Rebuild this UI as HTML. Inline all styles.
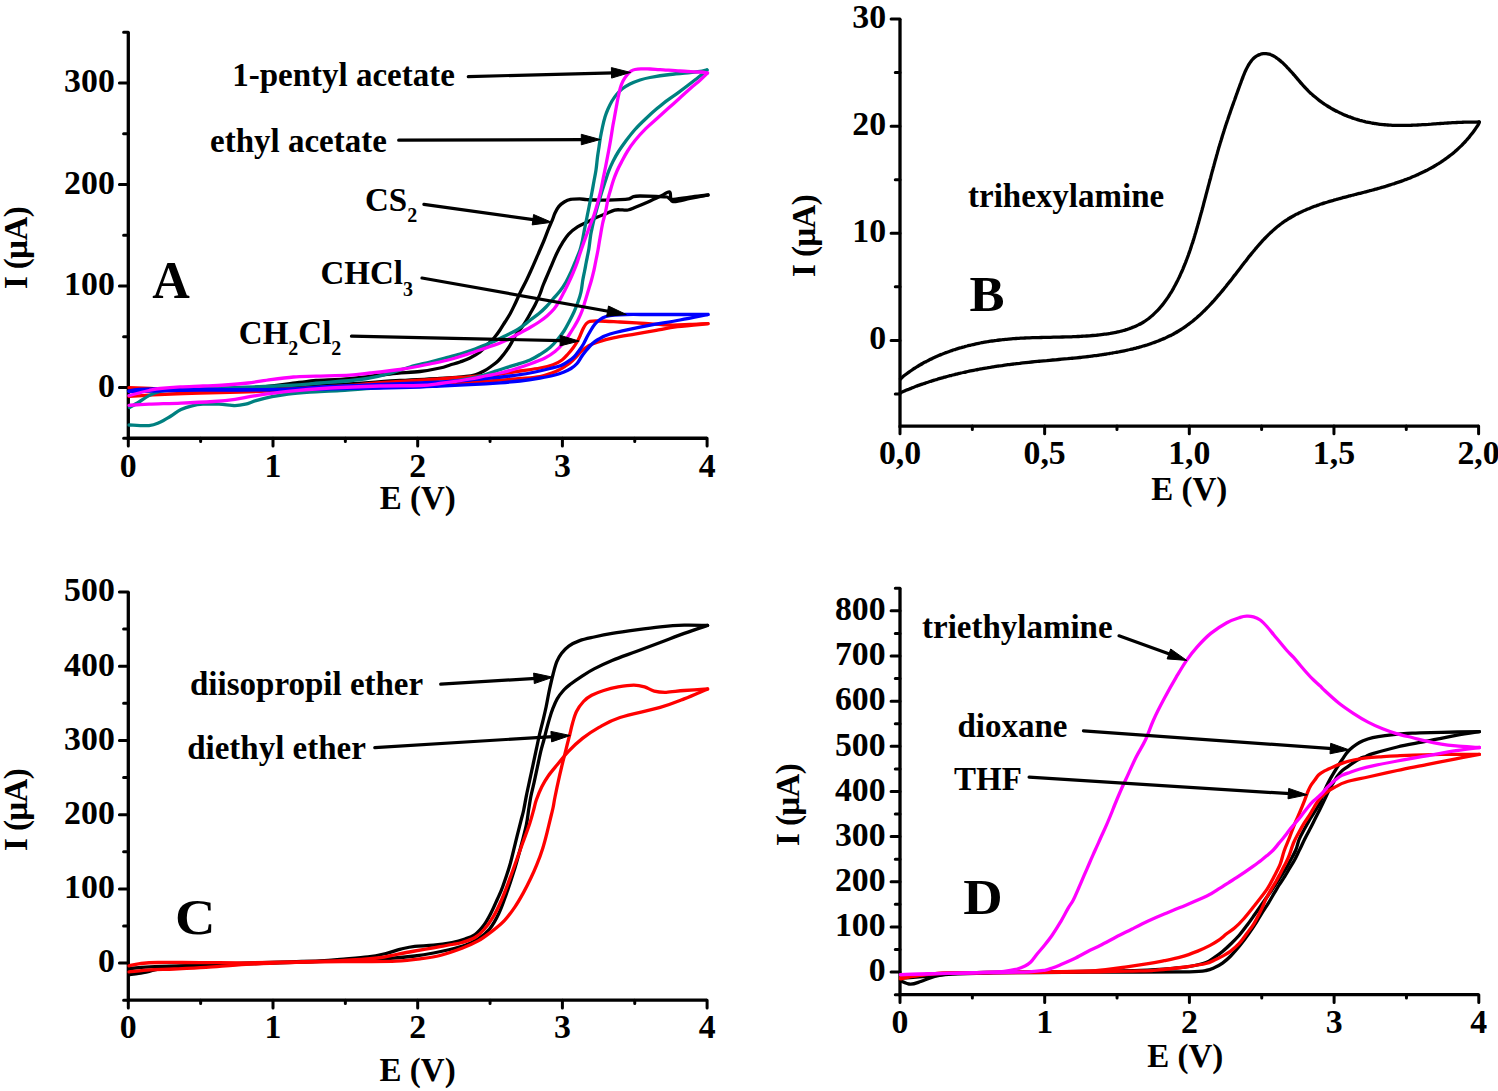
<!DOCTYPE html>
<html><head><meta charset="utf-8"><style>html,body{margin:0;padding:0;background:#fff;width:1498px;height:1091px;overflow:hidden}</style></head>
<body>
<svg width="1498" height="1091" viewBox="0 0 1498 1091" style="position:absolute;left:0;top:0;font-family:'Liberation Serif',serif;font-weight:bold">
<rect width="100%" height="100%" fill="#fff"/>
<path d="M128.30,32.14 L128.30,438.26 L707.10,438.26" stroke="#000" stroke-width="3.3" fill="none" stroke-linecap="butt" stroke-linejoin="miter"/>
<path d="M128.30,438.26 L128.30,445.96 M273.00,438.26 L273.00,445.96 M417.70,438.26 L417.70,445.96 M562.40,438.26 L562.40,445.96 M707.10,438.26 L707.10,445.96 M200.65,438.26 L200.65,441.56 M345.35,438.26 L345.35,441.56 M490.05,438.26 L490.05,441.56 M634.75,438.26 L634.75,441.56 M128.30,387.50 L119.40,387.50 M128.30,285.97 L119.40,285.97 M128.30,184.44 L119.40,184.44 M128.30,82.91 L119.40,82.91 M128.30,438.26 L123.60,438.26 M128.30,336.74 L123.60,336.74 M128.30,235.20 L123.60,235.20 M128.30,133.67 L123.60,133.67 M128.30,32.14 L123.60,32.14" stroke="#000" stroke-width="3.0" fill="none" stroke-linecap="round"/>
<text x="128.30" y="477.30" text-anchor="middle" font-size="33.8">0</text>
<text x="273.00" y="477.30" text-anchor="middle" font-size="33.8">1</text>
<text x="417.70" y="477.30" text-anchor="middle" font-size="33.8">2</text>
<text x="562.40" y="477.30" text-anchor="middle" font-size="33.8">3</text>
<text x="707.10" y="477.30" text-anchor="middle" font-size="33.8">4</text>
<text x="114.80" y="396.80" text-anchor="end" font-size="33.8">0</text>
<text x="114.80" y="295.27" text-anchor="end" font-size="33.8">100</text>
<text x="114.80" y="193.74" text-anchor="end" font-size="33.8">200</text>
<text x="114.80" y="92.21" text-anchor="end" font-size="33.8">300</text>
<path d="M900.00,19.01 L900.00,426.10 L1478.60,426.10" stroke="#000" stroke-width="3.3" fill="none" stroke-linecap="butt" stroke-linejoin="miter"/>
<path d="M900.00,426.10 L900.00,433.80 M1044.65,426.10 L1044.65,433.80 M1189.30,426.10 L1189.30,433.80 M1333.95,426.10 L1333.95,433.80 M1478.60,426.10 L1478.60,433.80 M972.33,426.10 L972.33,429.40 M1116.97,426.10 L1116.97,429.40 M1261.62,426.10 L1261.62,429.40 M1406.28,426.10 L1406.28,429.40 M900.00,340.40 L891.10,340.40 M900.00,233.27 L891.10,233.27 M900.00,126.14 L891.10,126.14 M900.00,19.01 L891.10,19.01 M900.00,393.96 L895.30,393.96 M900.00,286.83 L895.30,286.83 M900.00,179.70 L895.30,179.70 M900.00,72.57 L895.30,72.57" stroke="#000" stroke-width="3.0" fill="none" stroke-linecap="round"/>
<text x="900.00" y="464.30" text-anchor="middle" font-size="33.8">0,0</text>
<text x="1044.65" y="464.30" text-anchor="middle" font-size="33.8">0,5</text>
<text x="1189.30" y="464.30" text-anchor="middle" font-size="33.8">1,0</text>
<text x="1333.95" y="464.30" text-anchor="middle" font-size="33.8">1,5</text>
<text x="1478.60" y="464.30" text-anchor="middle" font-size="33.8">2,0</text>
<text x="886.10" y="349.40" text-anchor="end" font-size="33.8">0</text>
<text x="886.10" y="242.27" text-anchor="end" font-size="33.8">10</text>
<text x="886.10" y="135.14" text-anchor="end" font-size="33.8">20</text>
<text x="886.10" y="28.01" text-anchor="end" font-size="33.8">30</text>
<path d="M128.30,592.00 L128.30,1000.21 L707.10,1000.21" stroke="#000" stroke-width="3.3" fill="none" stroke-linecap="butt" stroke-linejoin="miter"/>
<path d="M128.30,1000.21 L128.30,1007.91 M273.00,1000.21 L273.00,1007.91 M417.70,1000.21 L417.70,1007.91 M562.40,1000.21 L562.40,1007.91 M707.10,1000.21 L707.10,1007.91 M200.65,1000.21 L200.65,1003.51 M345.35,1000.21 L345.35,1003.51 M490.05,1000.21 L490.05,1003.51 M634.75,1000.21 L634.75,1003.51 M128.30,963.10 L119.40,963.10 M128.30,888.88 L119.40,888.88 M128.30,814.66 L119.40,814.66 M128.30,740.44 L119.40,740.44 M128.30,666.22 L119.40,666.22 M128.30,592.00 L119.40,592.00 M128.30,1000.21 L123.60,1000.21 M128.30,925.99 L123.60,925.99 M128.30,851.77 L123.60,851.77 M128.30,777.55 L123.60,777.55 M128.30,703.33 L123.60,703.33 M128.30,629.11 L123.60,629.11" stroke="#000" stroke-width="3.0" fill="none" stroke-linecap="round"/>
<text x="128.30" y="1037.80" text-anchor="middle" font-size="33.8">0</text>
<text x="273.00" y="1037.80" text-anchor="middle" font-size="33.8">1</text>
<text x="417.70" y="1037.80" text-anchor="middle" font-size="33.8">2</text>
<text x="562.40" y="1037.80" text-anchor="middle" font-size="33.8">3</text>
<text x="707.10" y="1037.80" text-anchor="middle" font-size="33.8">4</text>
<text x="114.80" y="972.40" text-anchor="end" font-size="33.8">0</text>
<text x="114.80" y="898.18" text-anchor="end" font-size="33.8">100</text>
<text x="114.80" y="823.96" text-anchor="end" font-size="33.8">200</text>
<text x="114.80" y="749.74" text-anchor="end" font-size="33.8">300</text>
<text x="114.80" y="675.52" text-anchor="end" font-size="33.8">400</text>
<text x="114.80" y="601.30" text-anchor="end" font-size="33.8">500</text>
<path d="M900.00,588.24 L900.00,994.68 L1478.80,994.68" stroke="#000" stroke-width="3.3" fill="none" stroke-linecap="butt" stroke-linejoin="miter"/>
<path d="M900.00,994.68 L900.00,1002.38 M1044.70,994.68 L1044.70,1002.38 M1189.40,994.68 L1189.40,1002.38 M1334.10,994.68 L1334.10,1002.38 M1478.80,994.68 L1478.80,1002.38 M972.35,994.68 L972.35,997.98 M1117.05,994.68 L1117.05,997.98 M1261.75,994.68 L1261.75,997.98 M1406.45,994.68 L1406.45,997.98 M900.00,972.10 L891.10,972.10 M900.00,926.94 L891.10,926.94 M900.00,881.78 L891.10,881.78 M900.00,836.62 L891.10,836.62 M900.00,791.46 L891.10,791.46 M900.00,746.30 L891.10,746.30 M900.00,701.14 L891.10,701.14 M900.00,655.98 L891.10,655.98 M900.00,610.82 L891.10,610.82 M900.00,994.68 L895.30,994.68 M900.00,949.52 L895.30,949.52 M900.00,904.36 L895.30,904.36 M900.00,859.20 L895.30,859.20 M900.00,814.04 L895.30,814.04 M900.00,768.88 L895.30,768.88 M900.00,723.72 L895.30,723.72 M900.00,678.56 L895.30,678.56 M900.00,633.40 L895.30,633.40 M900.00,588.24 L895.30,588.24" stroke="#000" stroke-width="3.0" fill="none" stroke-linecap="round"/>
<text x="900.00" y="1033.30" text-anchor="middle" font-size="33.8">0</text>
<text x="1044.70" y="1033.30" text-anchor="middle" font-size="33.8">1</text>
<text x="1189.40" y="1033.30" text-anchor="middle" font-size="33.8">2</text>
<text x="1334.10" y="1033.30" text-anchor="middle" font-size="33.8">3</text>
<text x="1478.80" y="1033.30" text-anchor="middle" font-size="33.8">4</text>
<text x="885.60" y="981.40" text-anchor="end" font-size="33.8">0</text>
<text x="885.60" y="936.24" text-anchor="end" font-size="33.8">100</text>
<text x="885.60" y="891.08" text-anchor="end" font-size="33.8">200</text>
<text x="885.60" y="845.92" text-anchor="end" font-size="33.8">300</text>
<text x="885.60" y="800.76" text-anchor="end" font-size="33.8">400</text>
<text x="885.60" y="755.60" text-anchor="end" font-size="33.8">500</text>
<text x="885.60" y="710.44" text-anchor="end" font-size="33.8">600</text>
<text x="885.60" y="665.28" text-anchor="end" font-size="33.8">700</text>
<text x="885.60" y="620.12" text-anchor="end" font-size="33.8">800</text>
<text x="417.7" y="508.9" text-anchor="middle" font-size="33">E (V)</text>
<text x="1189.3" y="499.7" text-anchor="middle" font-size="33">E (V)</text>
<text x="417.6" y="1080.7" text-anchor="middle" font-size="33">E (V)</text>
<text x="1185.3" y="1066.7" text-anchor="middle" font-size="33">E (V)</text>
<text transform="translate(27.0,248.0) rotate(-90)" x="0" y="0" text-anchor="middle" font-size="33" letter-spacing="-0.65">I (µA)</text>
<text transform="translate(815.0,235.9) rotate(-90)" x="0" y="0" text-anchor="middle" font-size="33" letter-spacing="-0.65">I (µA)</text>
<text transform="translate(27.0,809.9) rotate(-90)" x="0" y="0" text-anchor="middle" font-size="33" letter-spacing="-0.65">I (µA)</text>
<text transform="translate(799.1,804.9) rotate(-90)" x="0" y="0" text-anchor="middle" font-size="33" letter-spacing="-0.65">I (µA)</text>
<text x="152.2" y="297.7" font-size="52">A</text>
<text transform="translate(969.6,311) scale(1.03,1)" font-size="51">B</text>
<text transform="translate(175.0,933.8) scale(1.10,1)" font-size="51">C</text>
<text transform="translate(963.3,913.9) scale(1.07,1)" font-size="51">D</text>
<text x="232.2" y="85.9" font-size="33">1-pentyl acetate</text>
<text x="210" y="151.8" font-size="33">ethyl acetate</text>
<text x="365" y="210.5" font-size="33">CS<tspan font-size="20" dy="11.3">2</tspan></text>
<text x="320.5" y="283.8" font-size="33">CHCl<tspan font-size="20" dy="11.7">3</tspan></text>
<text x="238.8" y="343.6" font-size="33">CH<tspan font-size="20" dy="11.8">2</tspan><tspan dy="-11.8">Cl</tspan><tspan font-size="20" dy="11.8">2</tspan></text>
<text x="968" y="207.2" font-size="33">trihexylamine</text>
<text x="190" y="695.4" font-size="33">diisopropil ether</text>
<text x="187.2" y="758.5" font-size="33">diethyl ether</text>
<text x="922" y="637.7" font-size="33">triethylamine</text>
<text x="957.5" y="737" font-size="33">dioxane</text>
<text x="954" y="790.3" font-size="33">THF</text>
<path d="M128.5,390.5 C135.4,390.4 154.8,390.4 170.0,390.2 C185.2,389.9 205.0,389.5 220.0,389.0 C235.0,388.5 246.8,388.1 260.0,387.0 C273.2,385.9 289.7,383.6 299.0,382.5 C308.3,381.4 307.5,381.1 316.0,380.5 C324.5,379.9 337.7,379.7 350.0,378.6 C362.3,377.5 378.3,375.2 390.0,374.0 C401.7,372.8 411.7,372.5 420.0,371.5 C428.3,370.5 435.0,369.1 440.0,368.0 C445.0,366.9 446.7,366.0 450.0,365.0 C453.3,364.0 456.7,363.2 460.0,362.0 C463.3,360.8 466.7,359.7 470.0,358.0 C473.3,356.3 477.0,354.3 480.0,352.0 C483.0,349.7 485.7,346.3 488.0,344.0 C490.3,341.7 492.0,340.3 494.0,338.0 C496.0,335.7 498.2,332.7 500.0,330.0 C501.8,327.3 503.3,324.7 505.0,322.0 C506.7,319.3 508.3,317.0 510.0,314.0 C511.7,311.0 513.3,307.5 515.0,304.0 C516.7,300.5 518.1,297.0 520.0,293.0 C521.9,289.0 524.6,284.2 526.6,280.0 C528.6,275.8 530.1,272.4 532.1,268.0 C534.1,263.6 536.5,257.9 538.5,253.3 C540.5,248.7 542.3,244.6 544.0,240.5 C545.7,236.4 547.2,232.0 548.6,228.6 C550.0,225.2 551.1,222.9 552.2,220.3 C553.3,217.7 553.9,215.3 555.0,213.0 C556.1,210.7 557.2,208.4 558.7,206.6 C560.2,204.8 562.2,203.2 564.2,202.0 C566.2,200.8 568.0,199.9 570.6,199.4 C573.2,198.9 577.0,198.9 579.7,198.9 C582.5,198.9 583.6,199.5 587.1,199.7 C590.6,199.9 595.3,200.2 600.8,200.2 C606.3,200.2 615.3,199.9 620.0,199.7 C624.7,199.5 626.8,199.3 629.0,198.8 C631.2,198.3 631.7,197.1 633.5,196.6 C635.3,196.1 636.2,196.0 640.0,196.0 C643.8,196.0 651.5,196.2 656.0,196.4 C660.5,196.6 664.3,196.5 667.0,197.0 C669.7,197.5 668.2,199.5 672.0,199.5 C675.8,199.5 684.0,197.9 690.0,197.2 C696.0,196.4 705.0,195.4 708.0,195.0" stroke="#000000" stroke-width="3.3" fill="none" stroke-linejoin="round" stroke-linecap="round"/>
<path d="M708.0,195.0 C705.0,195.6 695.9,197.4 690.0,198.5 C684.1,199.6 675.9,202.6 672.5,201.5 C669.1,200.4 671.5,193.0 669.7,192.0 C668.0,191.0 665.6,193.8 662.0,195.5 C658.4,197.2 652.3,200.1 648.0,202.0 C643.7,203.9 639.3,205.7 636.0,207.0 C632.7,208.3 630.7,209.5 628.0,210.0 C625.3,210.5 622.2,209.8 620.0,209.8 C617.8,209.8 617.0,209.5 614.6,210.2 C612.2,210.9 608.5,212.7 605.4,213.9 C602.3,215.1 599.2,216.2 596.2,217.6 C593.2,219.0 590.2,220.7 587.1,222.2 C584.0,223.7 581.0,224.7 577.9,226.7 C574.8,228.7 571.3,231.3 568.7,234.1 C566.1,236.8 564.3,240.0 562.3,243.2 C560.3,246.4 558.8,249.2 556.8,253.3 C554.8,257.4 552.3,263.6 550.4,268.0 C548.5,272.4 546.5,277.1 545.3,280.0 C544.1,282.9 543.9,283.2 543.0,285.5 C542.1,287.8 541.3,290.8 540.0,294.0 C538.7,297.2 536.7,301.7 535.0,305.0 C533.3,308.3 531.5,311.3 530.0,314.0 C528.5,316.7 527.3,318.8 526.0,321.0 C524.7,323.2 523.5,325.0 522.0,327.0 C520.5,329.0 518.5,330.8 517.0,333.0 C515.5,335.2 514.3,337.7 513.0,340.0 C511.7,342.3 510.5,344.7 509.0,347.0 C507.5,349.3 505.8,351.7 504.0,354.0 C502.2,356.3 500.2,358.9 498.0,361.0 C495.8,363.1 493.3,364.8 491.0,366.5 C488.7,368.2 486.5,369.7 484.0,371.0 C481.5,372.3 479.0,373.6 476.0,374.5 C473.0,375.4 472.0,375.8 466.0,376.5 C460.0,377.2 451.0,377.8 440.0,378.5 C429.0,379.2 418.3,379.4 400.0,380.5 C381.7,381.6 355.0,383.7 330.0,385.0 C305.0,386.3 275.0,387.7 250.0,388.5 C225.0,389.3 200.2,389.6 180.0,390.0 C159.8,390.4 137.1,390.8 128.5,391.0" stroke="#000000" stroke-width="3.3" fill="none" stroke-linejoin="round" stroke-linecap="round"/>
<path d="M129.0,387.6 C132.5,387.7 142.3,388.0 150.0,388.3 C157.7,388.6 166.7,389.1 175.0,389.3 C183.3,389.6 189.2,389.7 200.0,389.8 C210.8,389.9 225.3,389.9 240.0,389.8 C254.7,389.7 273.0,389.5 288.0,389.0 C303.0,388.5 318.0,387.3 330.0,386.6 C342.0,385.9 351.7,385.3 360.0,384.6 C368.3,383.9 370.0,383.3 380.0,382.6 C390.0,381.9 410.0,380.8 420.0,380.2 C430.0,379.6 433.3,379.2 440.0,378.8 C446.7,378.4 453.3,378.0 460.0,377.5 C466.7,377.0 473.3,376.6 480.0,376.0 C486.7,375.4 493.3,374.8 500.0,374.0 C506.7,373.2 513.3,372.0 520.0,371.0 C526.7,370.0 534.5,369.0 540.0,368.0 C545.5,367.0 549.3,366.1 553.0,364.8 C556.7,363.5 559.5,361.8 562.0,360.0 C564.5,358.2 566.2,356.0 568.0,354.0 C569.8,352.0 571.5,350.0 573.0,348.0 C574.5,346.0 575.8,344.0 577.0,342.0 C578.2,340.0 579.0,338.2 580.0,336.0 C581.0,333.8 582.0,331.0 583.0,329.0 C584.0,327.0 584.8,325.3 586.0,324.0 C587.2,322.7 587.7,321.8 590.0,321.3 C592.3,320.8 595.0,320.9 600.0,321.0 C605.0,321.1 612.5,321.6 620.0,322.0 C627.5,322.4 636.7,323.0 645.0,323.5 C653.3,324.0 662.5,324.8 670.0,325.0 C677.5,325.2 683.7,324.7 690.0,324.5 C696.3,324.3 705.0,323.8 708.0,323.7" stroke="#FF0000" stroke-width="3.3" fill="none" stroke-linejoin="round" stroke-linecap="round"/>
<path d="M708.0,323.7 C702.9,324.2 686.1,325.6 677.5,326.7 C668.9,327.8 663.3,329.1 656.2,330.4 C649.1,331.6 641.9,332.9 634.8,334.2 C627.7,335.4 619.6,336.6 613.4,337.9 C607.2,339.2 601.5,340.9 597.4,342.2 C593.3,343.5 591.5,344.1 588.8,345.6 C586.1,347.1 583.5,349.4 581.4,351.3 C579.3,353.2 577.8,355.2 576.0,357.0 C574.2,358.8 572.5,360.8 570.7,362.3 C568.9,363.9 566.8,365.1 565.0,366.3 C563.2,367.5 562.0,368.3 560.0,369.4 C558.0,370.4 556.3,371.4 553.0,372.6 C549.7,373.8 545.5,375.5 540.0,376.5 C534.5,377.5 526.7,377.9 520.0,378.5 C513.3,379.1 508.3,379.6 500.0,380.2 C491.7,380.8 480.0,381.6 470.0,382.2 C460.0,382.8 448.3,383.5 440.0,384.0 C431.7,384.5 430.0,384.6 420.0,385.0 C410.0,385.4 395.0,385.9 380.0,386.5 C365.0,387.1 345.3,387.7 330.0,388.3 C314.7,388.9 303.0,389.7 288.0,390.3 C273.0,390.9 254.7,391.6 240.0,392.0 C225.3,392.4 211.5,392.7 200.0,393.0 C188.5,393.3 179.5,393.6 171.0,394.0 C162.5,394.4 156.0,394.8 149.0,395.2 C142.0,395.6 132.3,396.2 129.0,396.4" stroke="#FF0000" stroke-width="3.3" fill="none" stroke-linejoin="round" stroke-linecap="round"/>
<path d="M129.0,425.0 C132.3,425.1 143.8,426.1 149.0,425.6 C154.2,425.2 156.3,423.9 160.0,422.3 C163.7,420.7 167.5,418.1 171.0,416.0 C174.5,413.9 177.5,411.2 181.0,409.5 C184.5,407.8 188.3,406.7 192.0,405.8 C195.7,404.9 198.5,404.5 203.0,404.2 C207.5,403.9 213.7,404.0 219.0,404.2 C224.3,404.4 230.6,405.6 235.0,405.6 C239.4,405.6 242.0,405.0 245.5,404.2 C249.0,403.4 251.6,401.9 256.0,400.6 C260.4,399.4 266.7,397.8 272.0,396.7 C277.3,395.6 281.7,394.8 288.0,394.0 C294.3,393.2 301.3,392.6 310.0,392.0 C318.7,391.4 328.3,391.2 340.0,390.5 C351.7,389.8 366.7,388.5 380.0,387.5 C393.3,386.5 408.3,385.5 420.0,384.5 C431.7,383.5 441.7,382.6 450.0,381.6 C458.3,380.6 464.3,379.5 470.0,378.4 C475.7,377.3 479.9,376.2 484.0,375.0 C488.1,373.8 491.3,372.6 494.8,371.4 C498.3,370.2 501.4,369.1 505.0,368.0 C508.6,366.9 512.0,365.9 516.2,364.6 C520.4,363.3 526.0,361.7 530.0,360.0 C534.0,358.3 536.7,356.6 540.0,354.5 C543.3,352.4 547.0,350.1 550.0,347.5 C553.0,344.9 555.7,341.8 558.0,339.0 C560.3,336.2 562.2,333.8 564.0,331.0 C565.8,328.2 567.3,325.2 569.0,322.0 C570.7,318.8 572.5,315.3 574.0,312.0 C575.5,308.7 576.8,305.3 578.0,302.0 C579.2,298.7 580.2,295.7 581.0,292.0 C581.8,288.3 582.2,283.5 582.8,280.0 C583.4,276.5 584.0,273.9 584.6,271.0 C585.2,268.1 585.5,266.2 586.2,262.5 C586.9,258.8 588.1,253.3 588.9,248.7 C589.6,244.1 590.1,238.8 590.7,235.0 C591.3,231.2 592.0,228.8 592.6,225.8 C593.2,222.8 593.8,220.1 594.6,217.0 C595.4,213.9 596.1,211.5 597.2,207.5 C598.4,203.5 600.1,197.4 601.5,193.0 C602.9,188.6 604.1,184.8 605.3,181.2 C606.5,177.6 607.3,174.6 608.6,171.3 C609.9,168.0 611.4,164.7 613.0,161.4 C614.6,158.1 616.3,155.0 618.5,151.5 C620.7,148.0 623.5,144.2 626.2,140.5 C629.0,136.8 631.7,133.2 635.0,129.5 C638.3,125.8 642.3,122.0 646.0,118.5 C649.7,115.0 653.3,111.7 657.0,108.6 C660.7,105.5 664.3,102.5 668.0,99.8 C671.7,97.0 675.3,94.8 679.0,92.1 C682.7,89.4 686.5,86.5 690.0,83.8 C693.5,81.1 697.2,78.3 700.0,76.0 C702.8,73.7 705.8,71.0 707.0,70.0" stroke="#008080" stroke-width="3.3" fill="none" stroke-linejoin="round" stroke-linecap="round"/>
<path d="M707.0,70.0 C705.8,70.2 702.8,71.1 700.0,71.5 C697.2,71.9 695.0,72.0 690.0,72.5 C685.0,73.0 676.7,73.7 670.0,74.5 C663.3,75.3 655.0,76.6 650.0,77.5 C645.0,78.4 643.3,78.9 640.0,80.0 C636.7,81.1 633.0,82.5 630.0,84.0 C627.0,85.5 624.2,87.3 622.0,89.0 C619.8,90.7 618.7,92.0 617.0,94.0 C615.3,96.0 613.5,98.5 612.0,101.0 C610.5,103.5 609.2,106.3 608.0,109.0 C606.8,111.7 605.9,114.0 605.0,117.0 C604.1,120.0 603.2,123.7 602.5,127.0 C601.8,130.3 601.1,133.7 600.5,137.0 C599.9,140.3 599.5,143.7 599.0,147.0 C598.5,150.3 598.0,153.2 597.5,157.0 C597.0,160.8 596.6,166.0 596.0,170.0 C595.4,174.0 594.7,177.3 594.0,181.0 C593.3,184.7 592.7,188.5 592.0,192.0 C591.3,195.5 590.7,198.7 590.0,202.0 C589.3,205.3 588.7,208.7 588.0,212.0 C587.3,215.3 586.7,218.7 586.0,222.0 C585.3,225.3 584.6,229.0 584.0,232.0 C583.4,235.0 583.2,237.0 582.5,240.0 C581.8,243.0 581.1,246.7 580.0,250.0 C578.9,253.3 577.5,256.3 576.0,260.0 C574.5,263.7 572.7,268.3 571.0,272.0 C569.3,275.7 567.8,278.8 566.0,282.0 C564.2,285.2 562.2,288.2 560.0,291.0 C557.8,293.8 555.3,296.3 553.0,299.0 C550.7,301.7 548.3,304.6 546.0,307.0 C543.7,309.4 541.5,311.4 539.0,313.5 C536.5,315.6 533.5,317.6 531.0,319.5 C528.5,321.4 526.7,323.1 524.0,325.0 C521.3,326.9 518.2,329.2 515.0,331.0 C511.8,332.8 508.3,334.3 505.0,336.0 C501.7,337.7 498.3,339.5 495.0,341.0 C491.7,342.5 488.3,343.7 485.0,345.0 C481.7,346.3 479.2,347.5 475.0,349.0 C470.8,350.5 465.0,352.5 460.0,354.0 C455.0,355.5 450.0,356.7 445.0,358.0 C440.0,359.3 435.8,360.5 430.0,362.0 C424.2,363.5 417.5,364.9 410.0,367.0 C402.5,369.1 393.3,372.4 385.0,374.5 C376.7,376.6 370.8,378.1 360.0,379.5 C349.2,380.9 332.0,382.0 320.0,383.0 C308.0,384.0 302.2,384.7 288.0,385.5 C273.8,386.3 251.0,387.1 235.0,387.6 C219.0,388.1 202.7,388.3 192.0,388.7 C181.3,389.1 176.3,389.4 171.0,389.8 C165.7,390.2 163.7,390.4 160.0,391.4 C156.3,392.4 152.5,393.8 149.0,395.6 C145.5,397.4 142.2,400.0 139.0,402.0 C135.8,404.0 131.1,406.6 129.5,407.5" stroke="#008080" stroke-width="3.3" fill="none" stroke-linejoin="round" stroke-linecap="round"/>
<path d="M129.0,390.8 C130.7,390.6 132.0,389.8 139.0,389.4 C146.0,389.0 155.0,388.7 171.0,388.7 C187.0,388.7 215.5,389.5 235.0,389.6 C254.5,389.7 272.2,389.7 288.0,389.2 C303.8,388.7 314.7,387.3 330.0,386.5 C345.3,385.7 365.0,385.1 380.0,384.5 C395.0,383.9 408.3,383.3 420.0,382.8 C431.7,382.3 441.7,382.0 450.0,381.5 C458.3,381.0 463.3,380.6 470.0,380.0 C476.7,379.4 483.3,378.9 490.0,378.2 C496.7,377.5 503.3,376.9 510.0,376.0 C516.7,375.1 523.3,374.2 530.0,373.0 C536.7,371.8 544.8,369.8 550.0,368.5 C555.2,367.2 558.0,366.7 561.0,365.5 C564.0,364.3 565.8,362.9 568.0,361.5 C570.2,360.1 572.1,358.9 574.0,357.0 C575.9,355.1 577.9,352.2 579.5,350.0 C581.1,347.8 582.2,346.2 583.5,344.0 C584.8,341.8 585.8,339.3 587.0,337.0 C588.2,334.7 589.7,332.2 591.0,330.0 C592.3,327.8 593.5,325.8 595.0,324.0 C596.5,322.2 598.2,320.8 600.0,319.5 C601.8,318.2 603.7,317.2 606.0,316.5 C608.3,315.8 610.7,315.3 614.0,315.0 C617.3,314.7 620.0,314.6 626.0,314.5 C632.0,314.4 641.0,314.5 650.0,314.5 C659.0,314.5 670.3,314.5 680.0,314.5 C689.7,314.5 703.3,314.5 708.0,314.5" stroke="#0000FF" stroke-width="3.3" fill="none" stroke-linejoin="round" stroke-linecap="round"/>
<path d="M708.0,314.5 C703.3,315.4 691.3,317.9 680.0,320.0 C668.7,322.1 651.7,324.8 640.0,327.1 C628.3,329.4 617.0,331.9 610.0,334.0 C603.0,336.1 601.0,337.8 598.0,339.5 C595.0,341.2 593.8,342.3 592.0,344.0 C590.2,345.7 588.7,347.5 587.0,349.5 C585.3,351.5 583.7,353.7 582.0,356.0 C580.3,358.3 578.8,361.4 577.0,363.5 C575.2,365.6 573.2,367.1 571.0,368.5 C568.8,369.9 566.7,370.9 564.0,372.0 C561.3,373.1 559.0,374.0 555.0,375.0 C551.0,376.0 545.8,377.0 540.0,378.0 C534.2,379.0 526.7,380.2 520.0,381.0 C513.3,381.8 508.3,382.2 500.0,382.8 C491.7,383.4 480.0,384.1 470.0,384.6 C460.0,385.1 448.3,385.6 440.0,386.0 C431.7,386.4 430.0,386.7 420.0,387.0 C410.0,387.3 395.0,387.7 380.0,388.0 C365.0,388.3 345.3,388.5 330.0,388.8 C314.7,389.1 309.7,389.6 288.0,389.8 C266.3,390.0 226.5,389.9 200.0,390.2 C173.5,390.5 140.8,391.3 129.0,391.5" stroke="#0000FF" stroke-width="3.3" fill="none" stroke-linejoin="round" stroke-linecap="round"/>
<path d="M129.0,405.3 C132.3,405.1 140.3,404.6 149.0,404.2 C157.7,403.8 170.2,403.6 181.0,403.1 C191.8,402.7 204.5,402.1 213.5,401.5 C222.5,400.9 227.9,400.4 235.0,399.4 C242.1,398.4 247.2,396.9 256.0,395.6 C264.8,394.3 275.7,392.7 288.0,391.4 C300.3,390.1 314.7,388.9 330.0,388.0 C345.3,387.1 365.0,386.4 380.0,386.0 C395.0,385.6 410.0,385.9 420.0,385.5 C430.0,385.1 434.2,384.2 440.0,383.5 C445.8,382.8 450.0,382.2 455.0,381.5 C460.0,380.8 465.0,379.9 470.0,379.0 C475.0,378.1 480.0,377.0 485.0,376.0 C490.0,375.0 495.0,374.2 500.0,373.0 C505.0,371.8 510.0,370.5 515.0,369.0 C520.0,367.5 525.0,365.8 530.0,364.0 C535.0,362.2 540.8,360.1 545.0,358.0 C549.2,355.9 552.0,353.9 555.0,351.5 C558.0,349.1 560.7,346.2 563.0,343.5 C565.3,340.8 567.2,337.8 569.0,335.0 C570.8,332.2 572.4,329.7 574.0,327.0 C575.6,324.3 577.2,321.7 578.5,319.0 C579.8,316.3 580.8,314.2 582.0,311.0 C583.2,307.8 584.4,303.5 585.5,300.0 C586.6,296.5 587.5,293.3 588.5,290.0 C589.5,286.7 590.6,283.3 591.5,280.0 C592.4,276.7 593.2,273.3 594.0,270.0 C594.8,266.7 595.3,263.3 596.0,260.0 C596.7,256.7 597.3,253.7 598.0,250.0 C598.7,246.3 599.2,242.3 600.0,238.0 C600.8,233.7 601.6,228.3 602.5,224.0 C603.4,219.7 604.6,216.2 605.5,212.0 C606.4,207.8 607.2,202.7 608.0,199.0 C608.8,195.3 609.6,193.2 610.5,190.0 C611.4,186.8 612.4,183.2 613.5,180.0 C614.6,176.8 615.7,174.0 617.0,171.0 C618.3,168.0 619.8,165.2 621.5,162.0 C623.2,158.8 625.0,155.1 627.3,151.5 C629.5,147.9 631.9,144.3 635.0,140.5 C638.1,136.7 642.3,132.1 646.0,128.4 C649.7,124.7 653.3,121.8 657.0,118.5 C660.7,115.2 664.3,111.9 668.0,108.6 C671.7,105.3 675.3,102.0 679.0,98.7 C682.7,95.4 686.5,91.9 690.0,88.8 C693.5,85.7 697.1,82.9 700.0,80.3 C702.9,77.7 706.2,74.2 707.5,73.0" stroke="#FF00FF" stroke-width="3.3" fill="none" stroke-linejoin="round" stroke-linecap="round"/>
<path d="M707.5,73.0 C706.2,72.8 704.6,72.3 700.0,72.0 C695.4,71.7 686.7,71.4 680.0,71.0 C673.3,70.6 665.0,69.9 660.0,69.6 C655.0,69.3 653.2,69.1 650.0,69.0 C646.8,68.9 643.5,68.7 641.0,68.8 C638.5,68.9 636.7,69.1 635.0,69.5 C633.3,69.9 632.3,70.3 631.0,71.2 C629.7,72.1 628.3,73.4 627.0,75.0 C625.7,76.6 624.1,78.8 623.0,81.0 C621.9,83.2 621.1,85.3 620.3,88.0 C619.5,90.7 618.9,93.8 618.2,97.0 C617.5,100.2 616.9,103.7 616.3,107.0 C615.7,110.3 615.1,113.5 614.5,117.0 C613.9,120.5 613.1,124.2 612.5,128.0 C611.9,131.8 611.2,136.3 610.6,140.0 C610.0,143.7 609.5,146.3 608.8,150.0 C608.1,153.7 607.2,158.3 606.5,162.0 C605.8,165.7 605.2,168.7 604.5,172.0 C603.8,175.3 603.2,178.3 602.5,182.0 C601.8,185.7 600.9,190.2 600.0,194.0 C599.1,197.8 598.0,201.5 597.0,205.0 C596.0,208.5 595.2,211.6 594.0,215.0 C592.8,218.4 591.2,222.2 590.0,225.5 C588.8,228.8 587.5,232.2 586.5,235.0 C585.5,237.8 585.0,239.2 584.0,242.0 C583.0,244.8 581.7,248.5 580.5,252.0 C579.3,255.5 578.2,259.5 577.0,263.0 C575.8,266.5 574.4,269.7 573.0,273.0 C571.6,276.3 570.0,279.8 568.5,283.0 C567.0,286.2 565.6,288.9 564.0,292.0 C562.4,295.1 560.7,298.7 559.0,301.5 C557.3,304.3 556.0,306.6 554.0,309.0 C552.0,311.4 549.5,313.8 547.0,316.0 C544.5,318.2 541.8,320.1 539.0,322.0 C536.2,323.9 533.2,325.7 530.0,327.5 C526.8,329.3 523.3,331.2 520.0,333.0 C516.7,334.8 513.3,336.8 510.0,338.5 C506.7,340.2 503.3,341.7 500.0,343.0 C496.7,344.3 493.3,345.3 490.0,346.5 C486.7,347.7 484.2,348.6 480.0,350.0 C475.8,351.4 470.0,353.4 465.0,355.0 C460.0,356.6 455.0,358.2 450.0,359.5 C445.0,360.8 440.0,361.9 435.0,363.0 C430.0,364.1 425.8,364.9 420.0,366.0 C414.2,367.1 408.3,368.3 400.0,369.5 C391.7,370.7 378.3,372.1 370.0,373.0 C361.7,373.9 359.0,374.7 350.0,375.2 C341.0,375.7 325.4,375.9 316.0,376.2 C306.6,376.5 301.0,376.4 293.5,377.0 C286.0,377.6 278.4,378.6 270.8,379.6 C263.2,380.6 255.6,382.1 248.0,383.0 C240.4,383.9 232.5,384.5 225.0,385.0 C217.5,385.5 210.5,385.7 203.0,386.0 C195.5,386.3 187.2,386.4 180.0,386.8 C172.8,387.2 165.2,387.9 160.0,388.5 C154.8,389.1 152.5,389.8 149.0,390.5 C145.5,391.2 142.3,392.1 139.0,393.0 C135.7,393.9 130.7,395.2 129.0,395.6" stroke="#FF00FF" stroke-width="3.3" fill="none" stroke-linejoin="round" stroke-linecap="round"/>
<path d="M900.5,379.0 C900.9,378.6 901.9,377.5 902.6,376.9 C903.4,376.2 904.2,375.6 905.0,375.0 C905.8,374.4 906.6,373.8 907.4,373.2 C908.2,372.6 909.0,372.1 909.8,371.5 C910.7,370.9 911.5,370.3 912.3,369.8 C913.1,369.2 914.0,368.7 914.8,368.1 C915.7,367.6 916.5,367.1 917.4,366.5 C918.2,366.0 919.1,365.5 919.9,365.0 C920.8,364.5 921.7,364.0 922.5,363.5 C923.4,363.0 924.3,362.5 925.2,362.1 C926.1,361.6 926.9,361.1 927.8,360.7 C928.7,360.2 929.6,359.8 930.5,359.3 C931.4,358.9 932.3,358.4 933.2,358.0 C934.1,357.6 935.0,357.2 935.9,356.8 C936.9,356.4 937.8,356.0 938.7,355.6 C939.6,355.2 940.5,354.8 941.5,354.4 C942.4,354.0 943.3,353.7 944.3,353.3 C945.2,352.9 946.1,352.6 947.1,352.2 C948.0,351.9 948.9,351.6 949.9,351.2 C950.8,350.9 951.8,350.6 952.7,350.2 C953.7,349.9 954.6,349.6 955.6,349.3 C956.5,349.0 957.5,348.7 958.4,348.4 C959.4,348.1 960.4,347.8 961.3,347.6 C962.3,347.3 963.3,347.0 964.2,346.8 C965.2,346.5 966.1,346.2 967.1,346.0 C968.1,345.7 969.1,345.5 970.0,345.3 C971.0,345.0 972.0,344.8 973.0,344.6 C973.9,344.4 974.9,344.1 975.9,343.9 C976.9,343.7 977.8,343.5 978.8,343.3 C979.8,343.1 980.8,342.9 981.8,342.7 C982.7,342.5 983.7,342.4 984.7,342.2 C985.7,342.0 986.7,341.8 987.7,341.7 C988.7,341.5 989.6,341.4 990.6,341.2 C991.6,341.1 992.6,340.9 993.6,340.8 C994.6,340.6 995.6,340.5 996.6,340.4 C997.6,340.2 998.6,340.1 999.6,340.0 C1000.6,339.9 1001.5,339.8 1002.5,339.7 C1003.5,339.5 1004.5,339.4 1005.5,339.3 C1006.5,339.3 1007.5,339.2 1008.5,339.1 C1009.5,339.0 1010.5,338.9 1011.5,338.8 C1012.5,338.7 1013.5,338.7 1014.5,338.6 C1015.5,338.5 1016.5,338.5 1017.5,338.4 C1018.5,338.3 1019.5,338.3 1020.5,338.2 C1021.5,338.2 1022.5,338.1 1023.5,338.1 C1024.5,338.0 1025.5,338.0 1026.5,337.9 C1027.5,337.9 1028.5,337.9 1029.5,337.8 C1030.5,337.8 1031.5,337.8 1032.5,337.7 C1033.5,337.7 1034.5,337.7 1035.5,337.6 C1036.5,337.6 1037.5,337.6 1038.5,337.6 C1039.5,337.5 1040.5,337.5 1041.5,337.5 C1042.5,337.5 1043.5,337.4 1044.5,337.4 C1045.5,337.4 1046.5,337.4 1047.5,337.4 C1048.5,337.3 1049.5,337.3 1050.5,337.3 C1051.5,337.3 1052.5,337.3 1053.5,337.2 C1054.5,337.2 1055.5,337.2 1056.5,337.2 C1057.5,337.1 1058.5,337.1 1059.5,337.1 C1060.5,337.1 1061.5,337.1 1062.5,337.0 C1063.5,337.0 1064.5,337.0 1065.5,336.9 C1066.5,336.9 1067.5,336.9 1068.5,336.9 C1069.5,336.8 1070.5,336.8 1071.5,336.8 C1072.5,336.7 1073.5,336.7 1074.5,336.6 C1075.5,336.6 1076.5,336.5 1077.5,336.5 C1078.5,336.5 1079.5,336.4 1080.5,336.3 C1081.5,336.3 1082.5,336.2 1083.5,336.2 C1084.5,336.1 1085.5,336.1 1086.5,336.0 C1087.5,335.9 1088.5,335.8 1089.5,335.8 C1090.5,335.7 1091.5,335.6 1092.5,335.5 C1093.5,335.4 1094.5,335.3 1095.5,335.3 C1096.5,335.2 1097.5,335.1 1098.4,335.0 C1099.4,334.8 1100.4,334.7 1101.4,334.6 C1102.4,334.5 1103.4,334.4 1104.4,334.2 C1105.4,334.1 1106.4,334.0 1107.4,333.8 C1108.4,333.7 1109.4,333.5 1110.3,333.4 C1111.3,333.2 1112.3,333.0 1113.3,332.8 C1114.3,332.7 1115.3,332.5 1116.2,332.3 C1117.2,332.1 1118.2,331.8 1119.2,331.6 C1120.2,331.4 1121.1,331.1 1122.1,330.9 C1123.1,330.6 1124.0,330.4 1125.0,330.1 C1125.9,329.8 1126.9,329.5 1127.8,329.2 C1128.8,328.9 1129.7,328.5 1130.7,328.2 C1131.6,327.9 1132.6,327.5 1133.5,327.1 C1134.4,326.7 1135.3,326.3 1136.2,325.9 C1137.1,325.5 1138.0,325.1 1138.9,324.6 C1139.8,324.2 1140.7,323.7 1141.6,323.2 C1142.5,322.7 1143.3,322.2 1144.2,321.6 C1145.0,321.1 1145.8,320.6 1146.6,320.0 C1147.5,319.4 1148.3,318.8 1149.1,318.2 C1149.9,317.6 1150.6,316.9 1151.4,316.3 C1152.2,315.7 1152.9,315.0 1153.6,314.3 C1154.4,313.6 1155.1,312.9 1155.8,312.2 C1156.5,311.5 1157.2,310.8 1157.9,310.1 C1158.6,309.4 1159.3,308.6 1159.9,307.9 C1160.6,307.1 1161.2,306.3 1161.8,305.6 C1162.5,304.8 1163.1,304.0 1163.7,303.2 C1164.3,302.4 1164.9,301.6 1165.5,300.8 C1166.1,300.0 1166.7,299.2 1167.2,298.4 C1167.8,297.5 1168.4,296.7 1168.9,295.9 C1169.4,295.0 1170.0,294.2 1170.5,293.3 C1171.0,292.5 1171.6,291.6 1172.1,290.8 C1172.6,289.9 1173.1,289.0 1173.6,288.1 C1174.0,287.3 1174.5,286.4 1175.0,285.5 C1175.5,284.6 1175.9,283.8 1176.4,282.9 C1176.9,282.0 1177.3,281.1 1177.8,280.2 C1178.2,279.3 1178.6,278.4 1179.1,277.5 C1179.5,276.6 1179.9,275.7 1180.3,274.8 C1180.7,273.9 1181.2,272.9 1181.6,272.0 C1182.0,271.1 1182.4,270.2 1182.8,269.3 C1183.2,268.3 1183.5,267.4 1183.9,266.5 C1184.3,265.6 1184.7,264.7 1185.1,263.7 C1185.4,262.8 1185.8,261.9 1186.2,260.9 C1186.5,260.0 1186.9,259.1 1187.2,258.1 C1187.6,257.2 1187.9,256.2 1188.3,255.3 C1188.6,254.4 1188.9,253.4 1189.3,252.5 C1189.6,251.5 1189.9,250.6 1190.3,249.6 C1190.6,248.7 1190.9,247.8 1191.2,246.8 C1191.5,245.9 1191.8,244.9 1192.1,243.9 C1192.5,243.0 1192.8,242.0 1193.1,241.1 C1193.4,240.1 1193.7,239.2 1194.0,238.2 C1194.2,237.3 1194.5,236.3 1194.8,235.4 C1195.1,234.4 1195.4,233.4 1195.7,232.5 C1196.0,231.5 1196.3,230.6 1196.5,229.6 C1196.8,228.6 1197.1,227.7 1197.4,226.7 C1197.6,225.7 1197.9,224.8 1198.2,223.8 C1198.5,222.9 1198.7,221.9 1199.0,220.9 C1199.3,220.0 1199.5,219.0 1199.8,218.0 C1200.1,217.1 1200.3,216.1 1200.6,215.1 C1200.9,214.2 1201.1,213.2 1201.4,212.3 C1201.7,211.3 1201.9,210.3 1202.2,209.4 C1202.4,208.4 1202.7,207.4 1203.0,206.5 C1203.2,205.5 1203.5,204.5 1203.7,203.6 C1204.0,202.6 1204.3,201.6 1204.5,200.7 C1204.8,199.7 1205.0,198.7 1205.3,197.8 C1205.5,196.8 1205.8,195.8 1206.0,194.9 C1206.3,193.9 1206.6,192.9 1206.8,192.0 C1207.1,191.0 1207.3,190.0 1207.6,189.1 C1207.8,188.1 1208.1,187.1 1208.3,186.2 C1208.6,185.2 1208.9,184.2 1209.1,183.2 C1209.4,182.3 1209.6,181.3 1209.9,180.3 C1210.1,179.4 1210.4,178.4 1210.7,177.4 C1210.9,176.5 1211.2,175.5 1211.4,174.5 C1211.7,173.6 1211.9,172.6 1212.2,171.6 C1212.5,170.7 1212.7,169.7 1213.0,168.7 C1213.2,167.8 1213.5,166.8 1213.8,165.9 C1214.0,164.9 1214.3,163.9 1214.6,163.0 C1214.8,162.0 1215.1,161.0 1215.4,160.1 C1215.6,159.1 1215.9,158.1 1216.2,157.2 C1216.4,156.2 1216.7,155.2 1217.0,154.3 C1217.3,153.3 1217.5,152.4 1217.8,151.4 C1218.1,150.4 1218.4,149.5 1218.6,148.5 C1218.9,147.5 1219.2,146.6 1219.5,145.6 C1219.8,144.7 1220.0,143.7 1220.3,142.8 C1220.6,141.8 1220.9,140.8 1221.2,139.9 C1221.5,138.9 1221.8,138.0 1222.1,137.0 C1222.4,136.0 1222.7,135.1 1223.0,134.1 C1223.3,133.2 1223.6,132.2 1223.9,131.3 C1224.2,130.3 1224.5,129.4 1224.8,128.4 C1225.1,127.5 1225.4,126.5 1225.7,125.6 C1226.0,124.6 1226.3,123.7 1226.7,122.7 C1227.0,121.8 1227.3,120.8 1227.6,119.9 C1227.9,118.9 1228.3,118.0 1228.6,117.0 C1228.9,116.1 1229.2,115.1 1229.6,114.2 C1229.9,113.2 1230.2,112.3 1230.5,111.4 C1230.9,110.4 1231.2,109.5 1231.5,108.5 C1231.9,107.6 1232.2,106.6 1232.5,105.7 C1232.9,104.7 1233.2,103.8 1233.5,102.9 C1233.9,101.9 1234.2,101.0 1234.6,100.0 C1234.9,99.1 1235.2,98.2 1235.6,97.2 C1235.9,96.3 1236.2,95.3 1236.6,94.4 C1236.9,93.4 1237.3,92.5 1237.6,91.6 C1237.9,90.6 1238.3,89.7 1238.6,88.7 C1239.0,87.8 1239.3,86.9 1239.6,85.9 C1240.0,85.0 1240.3,84.0 1240.7,83.1 C1241.0,82.2 1241.4,81.2 1241.7,80.3 C1242.1,79.3 1242.4,78.4 1242.8,77.5 C1243.1,76.5 1243.5,75.6 1243.9,74.7 C1244.3,73.8 1244.6,72.8 1245.0,71.9 C1245.5,71.0 1245.9,70.1 1246.3,69.2 C1246.7,68.3 1247.2,67.4 1247.7,66.5 C1248.2,65.7 1248.7,64.8 1249.2,63.9 C1249.7,63.1 1250.3,62.3 1250.9,61.5 C1251.5,60.7 1252.1,59.9 1252.8,59.2 C1253.5,58.4 1254.2,57.7 1255.0,57.1 C1255.8,56.5 1256.6,55.9 1257.5,55.5 C1258.4,55.0 1259.3,54.6 1260.3,54.3 C1261.2,54.0 1262.2,53.8 1263.2,53.7 C1264.2,53.6 1265.2,53.6 1266.2,53.7 C1267.2,53.8 1268.2,54.0 1269.2,54.2 C1270.1,54.4 1271.1,54.8 1272.0,55.2 C1272.9,55.6 1273.8,56.1 1274.7,56.6 C1275.5,57.1 1276.3,57.7 1277.2,58.3 C1278.0,58.8 1278.7,59.5 1279.5,60.1 C1280.3,60.7 1281.0,61.4 1281.8,62.1 C1282.5,62.7 1283.3,63.4 1284.0,64.1 C1284.7,64.8 1285.4,65.5 1286.1,66.2 C1286.8,66.9 1287.5,67.7 1288.2,68.4 C1288.9,69.1 1289.6,69.9 1290.2,70.6 C1290.9,71.3 1291.6,72.1 1292.2,72.8 C1292.9,73.6 1293.5,74.4 1294.2,75.1 C1294.8,75.9 1295.5,76.6 1296.2,77.4 C1296.8,78.1 1297.5,78.9 1298.1,79.7 C1298.8,80.4 1299.4,81.2 1300.1,81.9 C1300.7,82.7 1301.4,83.5 1302.0,84.2 C1302.7,84.9 1303.4,85.7 1304.1,86.4 C1304.7,87.2 1305.4,87.9 1306.1,88.6 C1306.8,89.3 1307.5,90.1 1308.2,90.8 C1308.9,91.5 1309.6,92.2 1310.4,92.9 C1311.1,93.5 1311.8,94.2 1312.6,94.9 C1313.3,95.6 1314.1,96.2 1314.8,96.8 C1315.6,97.5 1316.4,98.1 1317.2,98.7 C1317.9,99.4 1318.7,100.0 1319.5,100.6 C1320.3,101.2 1321.1,101.8 1322.0,102.4 C1322.8,102.9 1323.6,103.5 1324.4,104.1 C1325.3,104.6 1326.1,105.2 1326.9,105.7 C1327.8,106.2 1328.6,106.8 1329.5,107.3 C1330.4,107.8 1331.2,108.3 1332.1,108.8 C1333.0,109.3 1333.8,109.8 1334.7,110.2 C1335.6,110.7 1336.5,111.2 1337.4,111.6 C1338.3,112.1 1339.2,112.5 1340.1,112.9 C1341.0,113.4 1341.9,113.8 1342.8,114.2 C1343.7,114.6 1344.6,115.0 1345.6,115.4 C1346.5,115.7 1347.4,116.1 1348.4,116.5 C1349.3,116.8 1350.2,117.2 1351.2,117.5 C1352.1,117.9 1353.1,118.2 1354.0,118.5 C1355.0,118.8 1355.9,119.1 1356.9,119.4 C1357.8,119.7 1358.8,120.0 1359.7,120.3 C1360.7,120.5 1361.7,120.8 1362.6,121.0 C1363.6,121.3 1364.6,121.5 1365.6,121.8 C1366.5,122.0 1367.5,122.2 1368.5,122.4 C1369.5,122.6 1370.5,122.8 1371.4,123.0 C1372.4,123.2 1373.4,123.3 1374.4,123.5 C1375.4,123.6 1376.4,123.8 1377.4,123.9 C1378.4,124.1 1379.4,124.2 1380.3,124.3 C1381.3,124.4 1382.3,124.5 1383.3,124.6 C1384.3,124.7 1385.3,124.8 1386.3,124.9 C1387.3,125.0 1388.3,125.0 1389.3,125.1 C1390.3,125.2 1391.3,125.2 1392.3,125.3 C1393.3,125.3 1394.3,125.3 1395.3,125.4 C1396.3,125.4 1397.3,125.4 1398.3,125.4 C1399.3,125.4 1400.3,125.4 1401.3,125.4 C1402.3,125.4 1403.3,125.4 1404.3,125.4 C1405.3,125.4 1406.3,125.4 1407.3,125.4 C1408.3,125.4 1409.3,125.3 1410.3,125.3 C1411.3,125.3 1412.3,125.2 1413.3,125.2 C1414.3,125.2 1415.3,125.1 1416.3,125.1 C1417.3,125.0 1418.3,125.0 1419.3,124.9 C1420.3,124.9 1421.3,124.8 1422.3,124.7 C1423.3,124.7 1424.3,124.6 1425.3,124.6 C1426.3,124.5 1427.3,124.4 1428.3,124.4 C1429.3,124.3 1430.3,124.2 1431.3,124.2 C1432.3,124.1 1433.3,124.0 1434.3,123.9 C1435.3,123.9 1436.3,123.8 1437.3,123.7 C1438.3,123.7 1439.3,123.6 1440.3,123.5 C1441.3,123.4 1442.3,123.4 1443.3,123.3 C1444.3,123.2 1445.3,123.2 1446.3,123.1 C1447.3,123.0 1448.3,123.0 1449.3,122.9 C1450.3,122.9 1451.3,122.8 1452.3,122.7 C1453.3,122.7 1454.3,122.6 1455.3,122.6 C1456.3,122.5 1457.3,122.5 1458.3,122.4 C1459.3,122.4 1460.3,122.3 1461.3,122.3 C1462.3,122.3 1463.3,122.2 1464.3,122.2 C1465.3,122.2 1466.3,122.2 1467.3,122.1 C1468.3,122.1 1469.3,122.1 1470.3,122.1 C1471.3,122.1 1472.3,122.1 1473.3,122.1 C1474.3,122.1 1475.3,122.2 1476.3,122.2 C1477.3,122.1 1478.8,122.0 1479.3,122.0" stroke="#000000" stroke-width="3.3" fill="none" stroke-linejoin="round" stroke-linecap="round"/>
<path d="M1479.3,122.0 C1479.2,122.4 1478.9,123.4 1478.5,124.2 C1478.1,125.0 1477.5,125.9 1476.9,126.7 C1476.3,127.6 1475.8,128.4 1475.2,129.2 C1474.6,130.0 1474.0,130.9 1473.4,131.7 C1472.8,132.5 1472.2,133.3 1471.6,134.1 C1471.0,134.9 1470.4,135.6 1469.7,136.4 C1469.1,137.2 1468.5,138.0 1467.8,138.7 C1467.2,139.5 1466.5,140.2 1465.8,141.0 C1465.1,141.7 1464.5,142.5 1463.8,143.2 C1463.1,143.9 1462.4,144.6 1461.7,145.3 C1461.0,146.0 1460.2,146.7 1459.5,147.4 C1458.8,148.1 1458.1,148.8 1457.3,149.5 C1456.6,150.2 1455.8,150.8 1455.1,151.5 C1454.3,152.1 1453.5,152.8 1452.8,153.4 C1452.0,154.1 1451.2,154.7 1450.4,155.3 C1449.6,155.9 1448.8,156.5 1448.0,157.1 C1447.2,157.7 1446.4,158.3 1445.6,158.9 C1444.8,159.5 1444.0,160.1 1443.1,160.6 C1442.3,161.2 1441.5,161.7 1440.6,162.3 C1439.8,162.8 1438.9,163.4 1438.1,163.9 C1437.2,164.4 1436.4,165.0 1435.5,165.5 C1434.6,166.0 1433.8,166.5 1432.9,167.0 C1432.0,167.5 1431.2,168.0 1430.3,168.4 C1429.4,168.9 1428.5,169.4 1427.6,169.9 C1426.7,170.3 1425.8,170.8 1424.9,171.2 C1424.0,171.7 1423.1,172.1 1422.2,172.5 C1421.3,173.0 1420.4,173.4 1419.5,173.8 C1418.6,174.2 1417.7,174.7 1416.8,175.1 C1415.9,175.5 1414.9,175.9 1414.0,176.3 C1413.1,176.6 1412.2,177.0 1411.2,177.4 C1410.3,177.8 1409.4,178.2 1408.4,178.5 C1407.5,178.9 1406.6,179.3 1405.6,179.6 C1404.7,180.0 1403.8,180.3 1402.8,180.7 C1401.9,181.0 1400.9,181.3 1400.0,181.7 C1399.0,182.0 1398.1,182.3 1397.1,182.6 C1396.2,183.0 1395.2,183.3 1394.3,183.6 C1393.3,183.9 1392.4,184.2 1391.4,184.5 C1390.5,184.8 1389.5,185.1 1388.5,185.4 C1387.6,185.7 1386.6,186.0 1385.7,186.3 C1384.7,186.6 1383.7,186.9 1382.8,187.2 C1381.8,187.4 1380.9,187.7 1379.9,188.0 C1378.9,188.3 1378.0,188.5 1377.0,188.8 C1376.0,189.1 1375.1,189.3 1374.1,189.6 C1373.1,189.9 1372.2,190.1 1371.2,190.4 C1370.2,190.6 1369.2,190.9 1368.3,191.2 C1367.3,191.4 1366.3,191.7 1365.4,191.9 C1364.4,192.2 1363.4,192.4 1362.5,192.7 C1361.5,192.9 1360.5,193.2 1359.5,193.4 C1358.6,193.7 1357.6,193.9 1356.6,194.1 C1355.6,194.4 1354.7,194.6 1353.7,194.9 C1352.7,195.1 1351.8,195.4 1350.8,195.6 C1349.8,195.9 1348.8,196.1 1347.9,196.4 C1346.9,196.6 1345.9,196.9 1345.0,197.1 C1344.0,197.4 1343.0,197.6 1342.1,197.9 C1341.1,198.2 1340.1,198.4 1339.1,198.7 C1338.2,199.0 1337.2,199.2 1336.2,199.5 C1335.3,199.8 1334.3,200.0 1333.4,200.3 C1332.4,200.6 1331.4,200.9 1330.5,201.1 C1329.5,201.4 1328.5,201.7 1327.6,202.0 C1326.6,202.3 1325.7,202.6 1324.7,202.9 C1323.8,203.2 1322.8,203.5 1321.8,203.8 C1320.9,204.1 1319.9,204.5 1319.0,204.8 C1318.0,205.1 1317.1,205.5 1316.2,205.8 C1315.2,206.1 1314.3,206.5 1313.3,206.8 C1312.4,207.2 1311.5,207.5 1310.5,207.9 C1309.6,208.3 1308.7,208.7 1307.7,209.0 C1306.8,209.4 1305.9,209.8 1305.0,210.2 C1304.0,210.6 1303.1,211.0 1302.2,211.5 C1301.3,211.9 1300.4,212.3 1299.5,212.7 C1298.6,213.2 1297.7,213.6 1296.8,214.1 C1295.9,214.5 1295.0,215.0 1294.2,215.5 C1293.3,216.0 1292.4,216.5 1291.5,217.0 C1290.7,217.5 1289.8,218.0 1288.9,218.5 C1288.1,219.0 1287.2,219.6 1286.4,220.1 C1285.6,220.7 1284.7,221.2 1283.9,221.8 C1283.1,222.4 1282.3,222.9 1281.5,223.5 C1280.6,224.1 1279.8,224.7 1279.1,225.4 C1278.3,226.0 1277.5,226.6 1276.7,227.2 C1275.9,227.9 1275.2,228.5 1274.4,229.2 C1273.7,229.8 1272.9,230.5 1272.2,231.2 C1271.4,231.9 1270.7,232.5 1270.0,233.2 C1269.2,233.9 1268.5,234.6 1267.8,235.3 C1267.1,236.0 1266.4,236.8 1265.7,237.5 C1265.0,238.2 1264.3,238.9 1263.6,239.7 C1262.9,240.4 1262.2,241.1 1261.6,241.9 C1260.9,242.6 1260.2,243.4 1259.6,244.1 C1258.9,244.9 1258.2,245.6 1257.6,246.4 C1256.9,247.1 1256.3,247.9 1255.6,248.7 C1255.0,249.4 1254.3,250.2 1253.7,251.0 C1253.1,251.7 1252.4,252.5 1251.8,253.3 C1251.2,254.1 1250.5,254.9 1249.9,255.6 C1249.3,256.4 1248.7,257.2 1248.0,258.0 C1247.4,258.8 1246.8,259.6 1246.2,260.4 C1245.6,261.2 1245.0,261.9 1244.3,262.7 C1243.7,263.5 1243.1,264.3 1242.5,265.1 C1241.9,265.9 1241.3,266.7 1240.7,267.5 C1240.1,268.3 1239.4,269.1 1238.8,269.9 C1238.2,270.7 1237.6,271.5 1237.0,272.3 C1236.4,273.1 1235.8,273.9 1235.2,274.7 C1234.5,275.5 1233.9,276.2 1233.3,277.0 C1232.7,277.8 1232.1,278.6 1231.5,279.4 C1230.9,280.2 1230.2,281.0 1229.6,281.8 C1229.0,282.6 1228.4,283.4 1227.7,284.1 C1227.1,284.9 1226.5,285.7 1225.9,286.5 C1225.2,287.3 1224.6,288.0 1224.0,288.8 C1223.3,289.6 1222.7,290.4 1222.1,291.1 C1221.4,291.9 1220.8,292.7 1220.1,293.5 C1219.5,294.2 1218.8,295.0 1218.2,295.7 C1217.5,296.5 1216.9,297.3 1216.2,298.0 C1215.5,298.8 1214.9,299.5 1214.2,300.3 C1213.5,301.0 1212.9,301.8 1212.2,302.5 C1211.5,303.2 1210.8,304.0 1210.1,304.7 C1209.5,305.4 1208.8,306.2 1208.1,306.9 C1207.4,307.6 1206.7,308.3 1206.0,309.0 C1205.3,309.8 1204.5,310.5 1203.8,311.2 C1203.1,311.9 1202.4,312.6 1201.7,313.2 C1200.9,313.9 1200.2,314.6 1199.5,315.3 C1198.7,316.0 1198.0,316.6 1197.2,317.3 C1196.5,318.0 1195.7,318.6 1194.9,319.3 C1194.2,319.9 1193.4,320.5 1192.6,321.2 C1191.8,321.8 1191.0,322.4 1190.2,323.0 C1189.5,323.6 1188.7,324.3 1187.8,324.8 C1187.0,325.4 1186.2,326.0 1185.4,326.6 C1184.6,327.2 1183.8,327.7 1182.9,328.3 C1182.1,328.9 1181.2,329.4 1180.4,329.9 C1179.5,330.5 1178.7,331.0 1177.8,331.5 C1177.0,332.0 1176.1,332.5 1175.2,333.0 C1174.3,333.5 1173.5,334.0 1172.6,334.5 C1171.7,334.9 1170.8,335.4 1169.9,335.8 C1169.0,336.3 1168.1,336.7 1167.2,337.1 C1166.3,337.6 1165.4,338.0 1164.5,338.4 C1163.5,338.8 1162.6,339.2 1161.7,339.6 C1160.8,340.0 1159.8,340.3 1158.9,340.7 C1158.0,341.1 1157.0,341.4 1156.1,341.8 C1155.2,342.2 1154.2,342.5 1153.3,342.8 C1152.3,343.2 1151.4,343.5 1150.4,343.8 C1149.5,344.1 1148.5,344.4 1147.6,344.8 C1146.6,345.1 1145.7,345.4 1144.7,345.6 C1143.7,345.9 1142.8,346.2 1141.8,346.5 C1140.8,346.8 1139.9,347.0 1138.9,347.3 C1137.9,347.6 1137.0,347.8 1136.0,348.1 C1135.0,348.3 1134.1,348.6 1133.1,348.8 C1132.1,349.0 1131.1,349.3 1130.2,349.5 C1129.2,349.7 1128.2,349.9 1127.2,350.2 C1126.2,350.4 1125.3,350.6 1124.3,350.8 C1123.3,351.0 1122.3,351.2 1121.3,351.4 C1120.4,351.6 1119.4,351.8 1118.4,352.0 C1117.4,352.2 1116.4,352.3 1115.4,352.5 C1114.4,352.7 1113.4,352.9 1112.5,353.0 C1111.5,353.2 1110.5,353.4 1109.5,353.5 C1108.5,353.7 1107.5,353.9 1106.5,354.0 C1105.5,354.2 1104.5,354.3 1103.5,354.5 C1102.6,354.6 1101.6,354.8 1100.6,354.9 C1099.6,355.0 1098.6,355.2 1097.6,355.3 C1096.6,355.5 1095.6,355.6 1094.6,355.7 C1093.6,355.8 1092.6,356.0 1091.6,356.1 C1090.6,356.2 1089.6,356.3 1088.6,356.5 C1087.6,356.6 1086.6,356.7 1085.6,356.8 C1084.7,356.9 1083.7,357.0 1082.7,357.1 C1081.7,357.2 1080.7,357.4 1079.7,357.5 C1078.7,357.6 1077.7,357.7 1076.7,357.8 C1075.7,357.9 1074.7,358.0 1073.7,358.1 C1072.7,358.2 1071.7,358.3 1070.7,358.4 C1069.7,358.5 1068.7,358.6 1067.7,358.7 C1066.7,358.7 1065.7,358.8 1064.7,358.9 C1063.7,359.0 1062.7,359.1 1061.7,359.2 C1060.7,359.3 1059.7,359.4 1058.7,359.5 C1057.7,359.6 1056.7,359.7 1055.7,359.8 C1054.7,359.8 1053.7,359.9 1052.7,360.0 C1051.7,360.1 1050.7,360.2 1049.7,360.3 C1048.7,360.4 1047.7,360.5 1046.7,360.6 C1045.7,360.6 1044.7,360.7 1043.7,360.8 C1042.7,360.9 1041.7,361.0 1040.7,361.1 C1039.7,361.2 1038.7,361.3 1037.7,361.4 C1036.7,361.5 1035.7,361.6 1034.7,361.7 C1033.7,361.8 1032.7,361.9 1031.7,362.0 C1030.7,362.1 1029.7,362.2 1028.7,362.3 C1027.7,362.4 1026.7,362.5 1025.8,362.6 C1024.8,362.7 1023.8,362.8 1022.8,362.9 C1021.8,363.0 1020.8,363.1 1019.8,363.3 C1018.8,363.4 1017.8,363.5 1016.8,363.6 C1015.8,363.7 1014.8,363.8 1013.8,364.0 C1012.8,364.1 1011.8,364.2 1010.8,364.3 C1009.8,364.5 1008.8,364.6 1007.8,364.7 C1006.8,364.9 1005.8,365.0 1004.8,365.1 C1003.8,365.3 1002.9,365.4 1001.9,365.6 C1000.9,365.7 999.9,365.8 998.9,366.0 C997.9,366.1 996.9,366.3 995.9,366.4 C994.9,366.6 993.9,366.7 992.9,366.9 C991.9,367.1 991.0,367.2 990.0,367.4 C989.0,367.5 988.0,367.7 987.0,367.9 C986.0,368.0 985.0,368.2 984.0,368.4 C983.0,368.6 982.1,368.7 981.1,368.9 C980.1,369.1 979.1,369.3 978.1,369.5 C977.1,369.6 976.1,369.8 975.2,370.0 C974.2,370.2 973.2,370.4 972.2,370.6 C971.2,370.8 970.2,371.0 969.3,371.2 C968.3,371.4 967.3,371.6 966.3,371.8 C965.3,372.1 964.4,372.3 963.4,372.5 C962.4,372.7 961.4,372.9 960.4,373.2 C959.5,373.4 958.5,373.6 957.5,373.8 C956.5,374.1 955.6,374.3 954.6,374.6 C953.6,374.8 952.6,375.0 951.7,375.3 C950.7,375.5 949.7,375.8 948.8,376.0 C947.8,376.3 946.8,376.6 945.9,376.8 C944.9,377.1 943.9,377.3 943.0,377.6 C942.0,377.9 941.0,378.2 940.1,378.4 C939.1,378.7 938.1,379.0 937.2,379.3 C936.2,379.6 935.3,379.9 934.3,380.2 C933.3,380.5 932.4,380.8 931.4,381.1 C930.5,381.4 929.5,381.7 928.6,382.0 C927.6,382.3 926.7,382.6 925.7,382.9 C924.8,383.3 923.8,383.6 922.9,383.9 C921.9,384.2 921.0,384.6 920.0,384.9 C919.1,385.2 918.1,385.6 917.2,385.9 C916.2,386.3 915.3,386.6 914.4,387.0 C913.4,387.3 912.5,387.7 911.6,388.1 C910.6,388.4 909.7,388.8 908.8,389.2 C907.8,389.6 906.9,389.9 906.0,390.3 C905.1,390.7 904.1,391.1 903.2,391.5 C902.3,391.9 901.0,392.4 900.5,392.6" stroke="#000000" stroke-width="3.3" fill="none" stroke-linejoin="round" stroke-linecap="round"/>
<path d="M129.0,974.5 C130.6,974.3 135.3,973.9 138.7,973.4 C142.1,972.9 145.8,972.1 149.4,971.3 C153.0,970.5 152.9,969.8 160.0,968.8 C167.1,967.8 176.0,966.5 192.0,965.5 C208.0,964.5 234.7,963.5 256.0,962.8 C277.3,962.0 306.0,961.6 320.0,961.0 C334.0,960.4 332.0,960.1 340.0,959.4 C348.0,958.7 360.2,958.0 368.0,957.0 C375.8,956.0 381.2,954.6 386.7,953.3 C392.1,952.0 396.0,950.2 400.7,949.1 C405.4,948.0 409.3,947.0 414.8,946.4 C420.3,945.8 427.3,945.9 433.5,945.2 C439.7,944.6 446.8,943.5 452.0,942.5 C457.2,941.5 461.2,940.3 465.0,939.0 C468.8,937.7 471.8,936.8 475.0,934.5 C478.2,932.2 481.3,928.6 484.0,925.0 C486.7,921.4 488.8,917.2 491.0,913.0 C493.2,908.8 495.1,904.3 497.0,900.0 C498.9,895.7 500.4,893.1 502.5,887.3 C504.6,881.5 507.7,872.6 509.8,865.3 C511.9,858.0 513.5,850.6 515.3,843.3 C517.1,836.0 519.4,826.8 520.8,821.3 C522.2,815.8 522.8,814.3 523.7,810.0 C524.6,805.7 525.4,800.6 526.4,795.6 C527.4,790.6 528.6,785.3 529.7,780.2 C530.8,775.1 531.9,769.9 533.0,764.8 C534.1,759.7 535.2,754.5 536.3,749.4 C537.4,744.3 538.5,738.8 539.6,734.0 C540.7,729.2 541.8,725.4 542.9,720.8 C544.0,716.2 545.1,711.8 546.2,706.5 C547.3,701.2 548.4,694.5 549.6,689.0 C550.8,683.5 552.0,678.2 553.2,673.7 C554.4,669.2 555.4,665.1 556.8,661.7 C558.2,658.3 559.6,655.9 561.6,653.3 C563.6,650.7 565.8,648.2 568.8,646.1 C571.8,644.0 575.5,642.1 579.7,640.6 C583.9,639.1 588.7,638.2 594.1,637.0 C599.5,635.8 605.1,634.6 612.1,633.4 C619.1,632.2 628.2,630.9 636.2,629.8 C644.2,628.7 652.2,627.6 660.2,626.8 C668.2,626.0 676.3,625.4 684.2,625.2 C692.1,625.0 703.7,625.4 707.6,625.4" stroke="#000000" stroke-width="3.3" fill="none" stroke-linejoin="round" stroke-linecap="round"/>
<path d="M707.6,625.4 C703.7,626.7 692.1,630.5 684.2,633.4 C676.3,636.2 668.2,639.5 660.2,642.5 C652.2,645.5 644.2,648.5 636.2,651.5 C628.2,654.5 619.1,657.6 612.1,660.5 C605.1,663.4 599.1,666.3 594.1,668.9 C589.1,671.5 586.1,673.5 582.1,676.1 C578.1,678.7 573.0,682.2 570.0,684.5 C567.0,686.8 565.9,687.6 563.8,690.0 C561.7,692.4 559.0,695.7 557.2,698.8 C555.4,701.9 554.1,705.4 552.8,708.7 C551.5,712.0 550.6,714.9 549.5,718.6 C548.4,722.3 547.1,727.2 546.2,730.7 C545.3,734.2 544.9,736.0 544.0,739.5 C543.1,743.0 541.8,747.0 540.7,751.6 C539.6,756.2 538.5,761.9 537.4,767.0 C536.3,772.1 535.2,777.4 534.1,782.4 C533.0,787.4 531.7,792.1 530.8,796.7 C529.9,801.3 529.4,805.3 528.6,810.0 C527.9,814.7 527.6,818.8 526.3,825.0 C525.0,831.2 522.9,839.1 520.8,847.0 C518.7,854.9 516.0,864.7 513.5,872.6 C511.1,880.5 508.6,887.8 506.1,894.6 C503.7,901.4 501.6,907.8 498.8,913.5 C496.1,919.2 493.0,924.8 489.6,929.0 C486.2,933.2 482.6,935.9 478.6,938.6 C474.6,941.3 470.6,943.2 465.8,945.0 C461.0,946.8 455.4,948.2 450.0,949.5 C444.6,950.8 439.4,951.9 433.5,953.0 C427.6,954.1 422.6,955.0 414.8,956.0 C407.0,957.0 399.2,957.9 386.7,958.7 C374.2,959.5 361.8,960.0 340.0,960.8 C318.2,961.6 280.7,962.8 256.0,963.6 C231.3,964.4 209.7,965.0 192.0,965.5 C174.3,966.0 160.5,966.3 150.0,966.8 C139.5,967.3 132.5,968.3 129.0,968.6" stroke="#000000" stroke-width="3.3" fill="none" stroke-linejoin="round" stroke-linecap="round"/>
<path d="M129.0,971.8 C132.5,971.5 142.5,970.3 150.0,969.8 C157.5,969.3 164.7,969.4 174.0,969.0 C183.3,968.6 194.0,968.2 206.0,967.4 C218.0,966.6 232.0,965.2 246.0,964.4 C260.0,963.6 277.6,963.0 290.0,962.6 C302.4,962.2 308.6,962.1 320.3,961.9 C332.0,961.7 347.4,961.7 360.0,961.6 C372.6,961.5 386.1,961.7 396.1,961.2 C406.1,960.8 412.7,959.9 420.0,958.9 C427.3,957.9 433.0,957.3 440.0,955.5 C447.0,953.7 455.6,950.6 462.0,948.2 C468.4,945.8 473.1,943.8 478.2,940.9 C483.3,938.0 488.4,934.0 492.8,930.6 C497.2,927.2 500.9,924.2 504.6,920.3 C508.3,916.4 511.6,911.8 514.8,907.1 C518.0,902.5 520.9,897.3 523.6,892.4 C526.3,887.5 528.8,882.4 531.0,877.8 C533.2,873.2 534.8,869.5 536.8,864.6 C538.8,859.7 541.0,853.8 542.7,848.4 C544.4,843.0 545.7,837.9 547.1,832.3 C548.5,826.7 550.3,819.2 551.3,815.0 C552.3,810.8 552.6,810.0 553.2,807.0 C553.8,804.0 554.1,801.3 555.0,797.0 C555.9,792.7 557.2,786.3 558.3,781.3 C559.4,776.3 560.5,771.6 561.6,767.0 C562.7,762.4 564.0,757.5 564.9,753.8 C565.8,750.1 566.3,748.3 567.1,745.0 C567.9,741.7 569.0,737.7 569.9,734.0 C570.8,730.3 571.5,726.8 572.6,723.0 C573.7,719.2 574.7,715.1 576.5,711.5 C578.3,707.9 581.0,704.2 583.5,701.5 C586.0,698.8 588.3,697.1 591.7,695.3 C595.1,693.5 599.3,691.9 603.7,690.5 C608.1,689.1 613.1,687.8 618.1,686.9 C623.1,686.0 629.4,685.1 633.8,685.1 C638.2,685.1 641.2,685.9 644.6,686.9 C648.0,687.9 650.6,690.2 654.2,691.1 C657.8,692.0 661.2,692.4 666.2,692.3 C671.2,692.2 677.3,691.0 684.2,690.5 C691.1,690.0 703.7,689.2 707.6,689.0" stroke="#FF0000" stroke-width="3.3" fill="none" stroke-linejoin="round" stroke-linecap="round"/>
<path d="M707.6,689.0 C703.7,690.6 692.1,695.8 684.2,698.9 C676.3,702.0 670.9,704.3 660.2,707.4 C649.5,710.5 630.2,714.2 620.0,717.5 C609.8,720.8 605.2,723.9 599.0,727.4 C592.8,730.9 587.6,734.4 582.5,738.4 C577.4,742.4 572.4,747.2 568.2,751.6 C564.0,756.0 560.5,760.8 557.2,764.8 C553.9,768.8 551.0,772.1 548.4,775.8 C545.8,779.5 543.8,782.8 541.8,786.8 C539.8,790.8 537.7,796.1 536.3,800.0 C534.9,803.9 534.7,806.1 533.6,810.0 C532.5,813.9 531.6,817.7 529.8,823.2 C528.0,828.8 525.0,836.6 522.6,843.3 C520.2,850.0 517.7,856.8 515.3,863.5 C512.9,870.2 510.4,877.2 508.0,883.6 C505.6,890.0 503.1,896.5 500.6,902.0 C498.2,907.5 496.1,912.0 493.3,916.6 C490.6,921.2 487.2,926.0 484.1,929.5 C481.1,933.0 478.7,935.3 475.0,937.5 C471.3,939.7 465.8,941.3 462.0,942.5 C458.2,943.7 456.9,943.6 452.1,944.5 C447.4,945.4 439.7,946.7 433.5,947.8 C427.3,948.9 421.0,949.9 414.8,951.0 C408.6,952.1 402.3,953.3 396.1,954.5 C389.9,955.7 386.8,957.0 377.4,958.0 C368.0,959.0 354.6,959.9 340.0,960.6 C325.4,961.3 305.7,961.6 290.0,962.0 C274.3,962.4 261.0,962.7 246.0,962.8 C231.0,962.9 214.7,962.6 200.0,962.6 C185.3,962.6 168.0,962.3 158.0,962.5 C148.0,962.7 144.8,963.1 140.0,963.6 C135.2,964.1 130.8,965.4 129.0,965.8" stroke="#FF0000" stroke-width="3.3" fill="none" stroke-linejoin="round" stroke-linecap="round"/>
<path d="M900.5,980.7 C902.1,981.3 907.0,984.0 910.4,984.1 C913.8,984.2 916.8,982.8 920.8,981.5 C924.8,980.2 929.5,977.6 934.7,976.3 C939.9,975.0 943.4,974.3 952.1,973.7 C960.8,973.1 972.3,972.8 986.8,972.5 C1001.2,972.2 1019.9,972.2 1038.8,972.0 C1057.7,971.8 1083.1,971.5 1100.0,971.2 C1116.9,971.0 1127.8,971.0 1140.0,970.5 C1152.2,970.0 1164.8,969.0 1173.0,968.3 C1181.2,967.6 1184.0,967.5 1189.5,966.5 C1195.0,965.5 1201.9,964.0 1206.0,962.5 C1210.1,961.0 1211.5,959.3 1214.2,957.5 C1217.0,955.7 1219.8,953.8 1222.5,951.5 C1225.2,949.2 1228.0,946.7 1230.7,944.0 C1233.5,941.3 1236.2,938.7 1239.0,935.5 C1241.8,932.3 1244.7,928.3 1247.2,925.0 C1249.7,921.7 1251.9,918.5 1254.0,915.5 C1256.1,912.5 1258.1,909.8 1260.0,907.0 C1261.9,904.2 1263.6,901.7 1265.5,899.0 C1267.4,896.3 1269.4,893.6 1271.2,891.0 C1273.0,888.4 1274.4,886.0 1276.1,883.5 C1277.8,881.0 1279.4,878.5 1281.1,876.0 C1282.8,873.5 1284.5,871.0 1286.0,868.5 C1287.5,866.0 1288.5,864.1 1290.1,861.0 C1291.7,857.9 1294.3,853.6 1295.8,850.0 C1297.3,846.4 1297.8,842.7 1299.1,839.5 C1300.4,836.3 1301.8,833.8 1303.5,830.7 C1305.2,827.6 1307.2,823.9 1309.0,820.8 C1310.8,817.7 1312.7,815.0 1314.5,812.0 C1316.3,809.0 1318.5,805.7 1320.0,802.7 C1321.5,799.7 1322.2,796.7 1323.3,794.0 C1324.4,791.3 1325.3,788.9 1326.5,786.3 C1327.7,783.7 1329.1,781.0 1330.4,778.6 C1331.7,776.2 1332.9,774.3 1334.2,772.2 C1335.5,770.1 1336.8,767.8 1338.1,765.8 C1339.4,763.8 1340.6,761.9 1341.9,760.0 C1343.2,758.1 1344.5,755.9 1345.8,754.2 C1347.1,752.5 1347.9,751.4 1349.6,749.8 C1351.3,748.2 1353.8,746.1 1356.1,744.6 C1358.3,743.1 1360.3,742.0 1363.1,740.8 C1365.9,739.6 1369.0,738.5 1372.7,737.6 C1376.4,736.7 1378.5,736.3 1385.0,735.6 C1391.5,734.9 1402.6,733.7 1412.0,733.2 C1421.4,732.7 1430.1,732.7 1441.3,732.4 C1452.5,732.1 1473.1,731.7 1479.4,731.6" stroke="#000000" stroke-width="3.3" fill="none" stroke-linejoin="round" stroke-linecap="round"/>
<path d="M1479.4,731.6 C1475.5,732.2 1464.8,733.7 1456.0,735.3 C1447.2,736.9 1436.4,739.2 1426.6,741.2 C1416.8,743.2 1406.3,744.9 1397.3,747.0 C1388.3,749.1 1377.9,752.1 1372.7,753.6 C1367.5,755.1 1368.4,755.4 1366.3,756.2 C1364.2,757.1 1362.0,757.6 1359.9,758.7 C1357.8,759.8 1355.6,761.2 1353.5,762.6 C1351.4,764.0 1349.0,765.7 1347.1,767.1 C1345.2,768.5 1343.5,769.4 1341.9,770.9 C1340.3,772.4 1338.8,774.4 1337.5,776.1 C1336.2,777.8 1335.3,779.5 1334.2,781.2 C1333.1,782.9 1332.1,784.4 1331.0,786.3 C1329.9,788.2 1328.9,790.4 1327.8,792.7 C1326.7,795.0 1325.8,797.1 1324.4,800.0 C1323.0,802.9 1321.2,806.7 1319.6,809.9 C1318.0,813.1 1316.5,816.0 1315.0,819.0 C1313.5,822.0 1312.2,824.8 1310.5,828.0 C1308.8,831.2 1306.9,834.7 1305.0,838.5 C1303.1,842.3 1301.0,846.9 1299.2,850.6 C1297.4,854.3 1296.0,857.5 1294.3,860.5 C1292.6,863.5 1290.9,866.0 1289.3,868.8 C1287.7,871.5 1286.1,874.4 1284.4,877.0 C1282.8,879.6 1281.1,881.9 1279.4,884.5 C1277.8,887.1 1276.3,889.7 1274.5,892.7 C1272.7,895.7 1270.6,899.5 1268.7,902.6 C1266.8,905.7 1265.0,908.3 1263.0,911.5 C1261.0,914.7 1258.9,918.2 1256.5,922.0 C1254.1,925.8 1251.3,930.0 1248.5,934.0 C1245.7,938.0 1242.5,942.3 1239.5,946.0 C1236.5,949.7 1233.5,953.1 1230.7,956.0 C1227.9,958.9 1225.2,961.2 1222.5,963.2 C1219.8,965.2 1217.0,966.6 1214.2,967.8 C1211.5,969.0 1210.1,969.8 1206.0,970.5 C1201.9,971.2 1200.5,971.5 1189.5,971.8 C1178.5,972.0 1165.1,971.9 1140.0,972.0 C1114.9,972.1 1064.3,972.3 1038.8,972.5 C1013.3,972.7 1001.3,972.8 986.8,973.0 C972.3,973.2 961.5,973.5 952.0,974.0 C942.5,974.5 937.0,975.4 930.0,976.0 C923.0,976.6 914.9,977.2 910.0,977.5 C905.1,977.8 902.1,977.9 900.5,978.0" stroke="#000000" stroke-width="3.3" fill="none" stroke-linejoin="round" stroke-linecap="round"/>
<path d="M900.5,978.9 C903.3,978.3 908.8,976.5 917.4,975.5 C926.0,974.5 926.1,973.5 952.1,972.8 C978.1,972.1 1047.9,972.0 1073.5,971.5 C1099.1,971.0 1096.6,970.4 1105.5,969.6 C1114.4,968.8 1119.7,967.9 1126.8,966.9 C1133.9,965.9 1142.0,964.7 1148.2,963.7 C1154.4,962.7 1158.7,961.8 1164.2,960.7 C1169.7,959.6 1175.6,958.5 1181.2,956.9 C1186.8,955.3 1192.9,953.0 1197.7,951.1 C1202.5,949.2 1206.6,947.2 1210.1,945.4 C1213.5,943.6 1215.7,942.3 1218.4,940.4 C1221.2,938.5 1223.9,935.9 1226.6,933.8 C1229.3,931.7 1232.0,930.2 1234.8,927.8 C1237.5,925.4 1240.0,923.0 1243.1,919.5 C1246.2,916.0 1249.5,911.8 1253.5,906.8 C1257.5,901.8 1263.6,894.3 1266.9,889.4 C1270.2,884.5 1271.4,881.6 1273.6,877.4 C1275.8,873.2 1278.4,868.5 1280.2,864.1 C1282.0,859.7 1282.6,855.2 1284.2,850.7 C1285.8,846.2 1287.8,841.9 1289.6,837.4 C1291.3,832.9 1293.2,827.4 1294.7,823.8 C1296.2,820.2 1297.1,818.5 1298.3,815.7 C1299.5,812.9 1300.9,809.6 1302.0,806.9 C1303.1,804.2 1303.9,802.2 1304.9,799.6 C1305.9,797.0 1306.9,793.9 1307.9,791.5 C1308.9,789.1 1309.6,787.5 1310.8,785.5 C1312.0,783.5 1313.7,781.6 1315.0,779.8 C1316.3,778.0 1317.2,776.3 1318.8,774.8 C1320.4,773.3 1322.0,772.3 1324.6,770.9 C1327.2,769.5 1331.0,767.8 1334.2,766.4 C1337.4,765.0 1340.7,763.7 1343.9,762.6 C1347.1,761.5 1349.8,760.8 1353.5,760.0 C1357.2,759.2 1362.0,758.3 1366.3,757.8 C1370.6,757.3 1373.9,757.1 1379.1,756.8 C1384.3,756.5 1386.9,756.2 1397.3,755.8 C1407.7,755.4 1427.6,754.6 1441.3,754.4 C1455.0,754.2 1473.1,754.4 1479.4,754.4" stroke="#FF0000" stroke-width="3.3" fill="none" stroke-linejoin="round" stroke-linecap="round"/>
<path d="M1479.4,754.4 C1475.5,755.1 1464.8,757.1 1456.0,758.8 C1447.2,760.5 1436.4,762.6 1426.6,764.6 C1416.8,766.6 1407.1,768.4 1397.3,770.5 C1387.5,772.6 1376.5,775.1 1368.0,777.0 C1359.5,778.9 1351.5,780.3 1346.0,782.0 C1340.5,783.7 1338.0,785.5 1335.0,787.1 C1332.0,788.7 1330.2,789.6 1327.7,791.5 C1325.2,793.4 1322.2,795.8 1320.0,798.3 C1317.8,800.8 1316.3,803.6 1314.5,806.5 C1312.7,809.4 1310.8,813.0 1309.0,815.9 C1307.2,818.8 1305.3,821.1 1303.5,824.1 C1301.7,827.1 1299.7,830.9 1298.0,834.0 C1296.3,837.1 1295.1,839.1 1293.5,843.0 C1291.9,846.9 1290.0,853.5 1288.5,857.2 C1287.0,861.0 1285.8,862.8 1284.4,865.5 C1283.0,868.2 1281.6,871.1 1280.2,873.7 C1278.8,876.3 1277.6,878.6 1276.1,881.2 C1274.6,883.8 1272.8,886.5 1271.2,889.4 C1269.6,892.3 1268.0,894.9 1266.2,898.5 C1264.4,902.1 1262.7,906.8 1260.6,911.0 C1258.5,915.2 1256.0,920.2 1253.8,923.9 C1251.6,927.6 1249.7,929.7 1247.2,933.0 C1244.7,936.3 1241.8,940.7 1239.0,943.7 C1236.2,946.7 1233.5,949.0 1230.7,951.1 C1228.0,953.2 1225.2,954.6 1222.5,956.1 C1219.8,957.6 1217.0,959.0 1214.2,960.2 C1211.5,961.4 1210.1,962.5 1206.0,963.5 C1201.9,964.5 1195.0,965.6 1189.5,966.4 C1184.0,967.2 1178.5,967.9 1173.0,968.5 C1167.5,969.1 1162.0,969.7 1156.5,970.1 C1151.0,970.5 1153.8,970.5 1140.0,970.9 C1126.2,971.2 1104.8,971.9 1073.5,972.2 C1042.2,972.6 978.1,972.5 952.0,973.0 C925.9,973.5 925.6,974.8 917.0,975.5 C908.4,976.2 903.2,977.2 900.5,977.5" stroke="#FF0000" stroke-width="3.3" fill="none" stroke-linejoin="round" stroke-linecap="round"/>
<path d="M900.5,974.6 C906.2,974.5 923.2,974.0 934.7,973.7 C946.2,973.4 957.8,973.2 969.4,972.8 C981.0,972.4 996.1,971.9 1004.1,971.3 C1012.1,970.7 1013.8,969.9 1017.3,969.0 C1020.8,968.1 1022.8,967.1 1025.0,966.0 C1027.2,964.9 1028.5,964.2 1030.5,962.3 C1032.5,960.4 1034.4,957.4 1036.7,954.5 C1039.0,951.6 1041.9,948.5 1044.5,945.2 C1047.1,942.0 1049.7,938.8 1052.3,935.0 C1054.9,931.2 1057.5,927.1 1060.1,922.7 C1062.7,918.3 1065.7,912.4 1067.9,908.6 C1070.1,904.8 1071.5,903.4 1073.3,900.0 C1075.1,896.6 1076.7,892.5 1078.5,888.5 C1080.3,884.5 1082.2,880.0 1084.0,875.7 C1085.8,871.5 1087.7,867.2 1089.5,863.0 C1091.3,858.8 1093.2,854.6 1095.0,850.5 C1096.8,846.4 1098.7,842.3 1100.5,838.3 C1102.3,834.2 1104.2,830.4 1106.0,826.2 C1107.8,822.0 1109.8,817.3 1111.5,813.0 C1113.2,808.7 1114.8,804.5 1116.5,800.5 C1118.2,796.5 1119.8,792.6 1121.4,789.0 C1123.0,785.4 1123.6,784.2 1126.0,779.0 C1128.4,773.8 1132.7,764.0 1135.9,757.5 C1139.1,751.0 1142.5,746.2 1145.4,740.0 C1148.3,733.8 1150.3,727.1 1153.4,720.2 C1156.5,713.3 1160.3,705.9 1164.1,698.8 C1167.9,691.7 1172.3,683.8 1176.1,677.4 C1179.9,671.0 1183.2,665.2 1186.8,660.1 C1190.3,655.0 1193.4,651.2 1197.4,646.7 C1201.4,642.2 1205.9,637.4 1210.8,633.4 C1215.7,629.4 1221.9,625.4 1226.8,622.7 C1231.7,620.0 1236.8,618.5 1240.2,617.4 C1243.6,616.3 1244.8,616.3 1247.0,616.2 C1249.2,616.1 1251.3,616.3 1253.5,616.9 C1255.7,617.5 1258.0,618.4 1260.2,620.0 C1262.4,621.6 1264.7,624.1 1266.9,626.5 C1269.1,628.9 1271.3,631.8 1273.5,634.5 C1275.7,637.2 1278.0,639.8 1280.2,642.5 C1282.4,645.2 1284.7,648.0 1286.9,650.5 C1289.1,653.0 1291.4,654.9 1293.6,657.4 C1295.8,659.9 1298.0,662.6 1300.2,665.2 C1302.4,667.8 1304.7,670.5 1306.9,673.0 C1309.1,675.5 1311.4,677.9 1313.6,680.0 C1315.8,682.1 1318.3,684.1 1320.0,685.8 C1321.7,687.4 1320.9,687.0 1324.0,689.9 C1327.1,692.8 1333.8,699.1 1338.7,703.0 C1343.6,706.9 1348.4,710.1 1353.3,713.3 C1358.2,716.5 1363.1,719.5 1368.0,722.1 C1372.9,724.7 1377.7,726.8 1382.6,728.7 C1387.5,730.7 1392.4,732.3 1397.3,733.8 C1402.2,735.3 1407.1,736.3 1412.0,737.5 C1416.9,738.7 1421.7,740.1 1426.6,741.2 C1431.5,742.3 1436.4,743.3 1441.3,744.1 C1446.2,744.9 1449.7,745.3 1456.0,745.9 C1462.3,746.5 1475.5,747.2 1479.4,747.5" stroke="#FF00FF" stroke-width="3.3" fill="none" stroke-linejoin="round" stroke-linecap="round"/>
<path d="M1479.4,747.5 C1475.5,748.0 1464.8,749.3 1456.0,750.7 C1447.2,752.1 1436.4,754.1 1426.6,755.8 C1416.8,757.5 1406.3,759.3 1397.3,761.0 C1388.3,762.7 1378.9,764.5 1372.7,765.8 C1366.5,767.1 1363.6,767.9 1359.9,769.0 C1356.2,770.1 1353.3,771.1 1350.3,772.2 C1347.3,773.3 1344.2,774.2 1341.9,775.4 C1339.6,776.6 1338.0,777.9 1336.2,779.3 C1334.4,780.7 1332.6,782.2 1331.0,783.7 C1329.4,785.2 1328.1,786.5 1326.5,788.2 C1324.9,789.9 1323.3,792.1 1321.4,794.0 C1319.5,795.9 1316.6,798.4 1315.0,799.8 C1313.4,801.2 1313.2,801.0 1311.8,802.6 C1310.3,804.2 1308.1,807.0 1306.3,809.3 C1304.5,811.6 1302.6,814.1 1300.8,816.4 C1299.0,818.7 1297.1,820.8 1295.3,823.0 C1293.5,825.2 1291.6,827.3 1289.8,829.6 C1288.0,831.9 1286.1,834.5 1284.3,836.8 C1282.5,839.1 1280.6,841.2 1278.8,843.4 C1277.0,845.6 1275.3,848.0 1273.3,850.0 C1271.3,852.0 1269.0,853.9 1267.0,855.6 C1265.0,857.3 1263.6,858.4 1261.3,860.2 C1259.0,862.0 1255.8,864.3 1253.0,866.3 C1250.2,868.3 1247.5,870.2 1244.8,872.1 C1242.0,874.0 1239.2,875.9 1236.5,877.7 C1233.8,879.5 1231.0,881.0 1228.3,882.8 C1225.5,884.5 1223.6,886.0 1220.0,888.2 C1216.4,890.4 1213.5,892.9 1206.8,896.1 C1200.1,899.3 1187.1,904.6 1180.0,907.6 C1172.9,910.6 1169.5,911.8 1164.2,914.0 C1158.9,916.2 1153.6,918.5 1148.2,921.0 C1142.8,923.5 1137.4,926.3 1132.1,929.0 C1126.8,931.7 1121.4,934.2 1116.1,937.0 C1110.8,939.8 1104.4,943.3 1100.1,945.5 C1095.8,947.7 1094.1,948.1 1090.0,950.2 C1085.9,952.3 1080.7,955.5 1075.7,957.9 C1070.7,960.3 1064.0,963.2 1060.1,964.9 C1056.2,966.6 1054.9,967.1 1052.3,968.0 C1049.7,968.9 1048.4,969.7 1044.5,970.3 C1040.6,970.9 1038.1,971.4 1029.0,971.8 C1019.9,972.2 1005.7,972.2 990.0,972.5 C974.3,972.8 949.6,973.4 934.7,973.7 C919.8,974.1 906.2,974.5 900.5,974.6" stroke="#FF00FF" stroke-width="3.3" fill="none" stroke-linejoin="round" stroke-linecap="round"/>
<path d="M468.3,76.6 L613.5,72.8" stroke="#000" stroke-width="3.2" stroke-linecap="round" fill="none"/>
<path d="M630.5,72.4 L611.6,78.1 L611.4,67.6 Z" fill="#000" stroke="#000" stroke-width="1" stroke-linejoin="round"/>
<path d="M398.7,140.2 L583.3,139.6" stroke="#000" stroke-width="3.2" stroke-linecap="round" fill="none"/>
<path d="M600.3,139.5 L581.3,144.8 L581.3,134.3 Z" fill="#000" stroke="#000" stroke-width="1" stroke-linejoin="round"/>
<path d="M423.9,204.4 L534.9,219.9" stroke="#000" stroke-width="3.2" stroke-linecap="round" fill="none"/>
<path d="M551.7,222.3 L532.2,224.9 L533.6,214.5 Z" fill="#000" stroke="#000" stroke-width="1" stroke-linejoin="round"/>
<path d="M422.0,278.0 L609.6,311.5" stroke="#000" stroke-width="3.2" stroke-linecap="round" fill="none"/>
<path d="M626.3,314.5 L606.7,316.3 L608.5,306.0 Z" fill="#000" stroke="#000" stroke-width="1" stroke-linejoin="round"/>
<path d="M351.5,336.1 L562.2,340.7" stroke="#000" stroke-width="3.2" stroke-linecap="round" fill="none"/>
<path d="M579.2,341.1 L560.1,345.9 L560.3,335.4 Z" fill="#000" stroke="#000" stroke-width="1" stroke-linejoin="round"/>
<path d="M440.7,684.2 L535.9,678.3" stroke="#000" stroke-width="3.2" stroke-linecap="round" fill="none"/>
<path d="M552.9,677.2 L534.3,683.6 L533.6,673.1 Z" fill="#000" stroke="#000" stroke-width="1" stroke-linejoin="round"/>
<path d="M374.8,747.6 L553.2,736.6" stroke="#000" stroke-width="3.2" stroke-linecap="round" fill="none"/>
<path d="M570.2,735.5 L551.6,741.9 L550.9,731.4 Z" fill="#000" stroke="#000" stroke-width="1" stroke-linejoin="round"/>
<path d="M1119.0,635.8 L1170.8,654.6" stroke="#000" stroke-width="3.2" stroke-linecap="round" fill="none"/>
<path d="M1186.8,660.4 L1167.1,658.9 L1170.7,649.0 Z" fill="#000" stroke="#000" stroke-width="1" stroke-linejoin="round"/>
<path d="M1083.5,730.8 L1332.3,748.7" stroke="#000" stroke-width="3.2" stroke-linecap="round" fill="none"/>
<path d="M1349.3,749.9 L1330.0,753.8 L1330.7,743.3 Z" fill="#000" stroke="#000" stroke-width="1" stroke-linejoin="round"/>
<path d="M1029.1,777.1 L1290.3,793.7" stroke="#000" stroke-width="3.2" stroke-linecap="round" fill="none"/>
<path d="M1307.3,794.8 L1288.0,798.8 L1288.7,788.4 Z" fill="#000" stroke="#000" stroke-width="1" stroke-linejoin="round"/>
</svg>
</body></html>
